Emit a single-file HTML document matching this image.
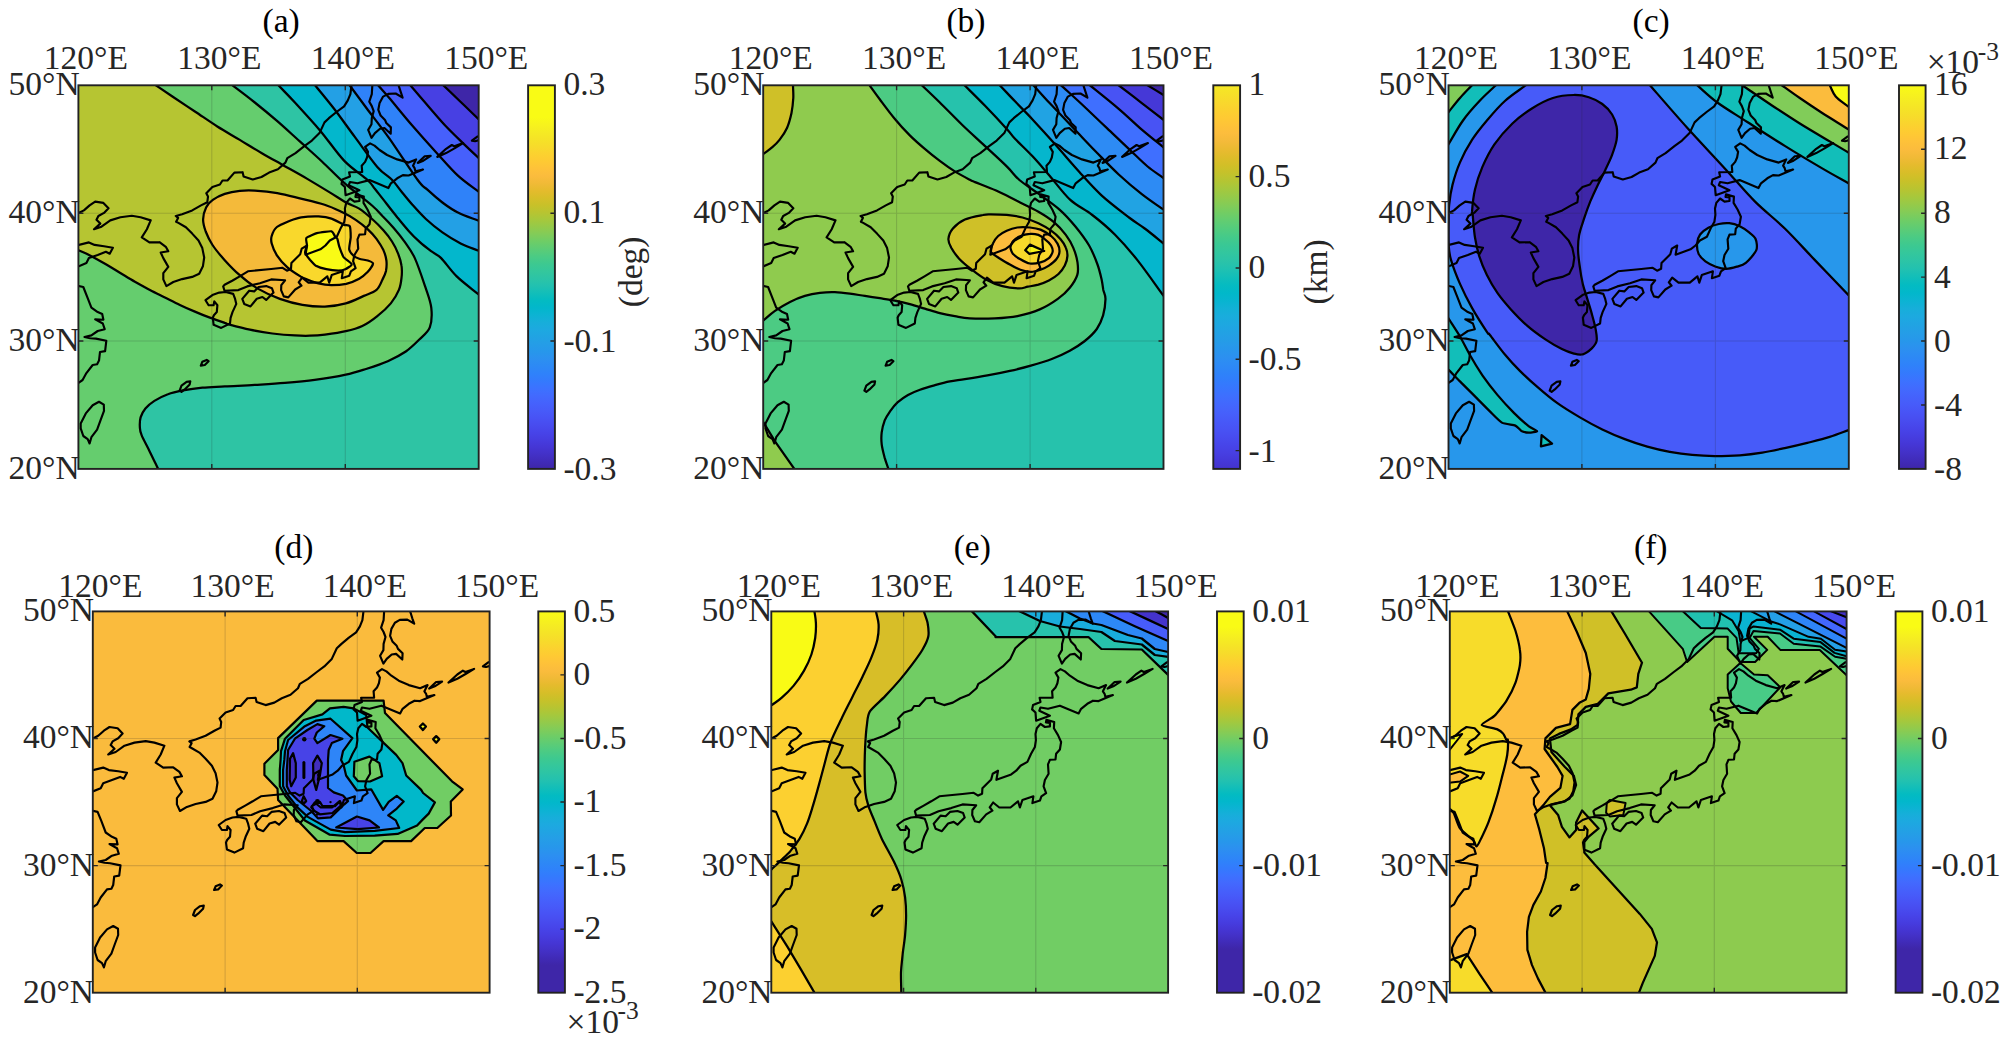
<!DOCTYPE html><html><head><meta charset="utf-8"><title>figure</title>
<style>html,body{margin:0;padding:0;background:#fff}svg{display:block}text{font-family:"Liberation Serif","Times New Roman",serif;}</style></head><body>
<svg width="2007" height="1041" viewBox="0 0 2007 1041">
<rect width="2007" height="1041" fill="#fff"/>
<defs>
<linearGradient id="para" x1="0" y1="1" x2="0" y2="0">
<stop offset="0.0000" stop-color="#3e26a8"/>
<stop offset="0.0191" stop-color="#402bb8"/>
<stop offset="0.0382" stop-color="#4331c7"/>
<stop offset="0.0573" stop-color="#4536d5"/>
<stop offset="0.0764" stop-color="#463de0"/>
<stop offset="0.0955" stop-color="#4744e9"/>
<stop offset="0.1146" stop-color="#484cef"/>
<stop offset="0.1337" stop-color="#4853f5"/>
<stop offset="0.1528" stop-color="#475bf9"/>
<stop offset="0.1719" stop-color="#4562fc"/>
<stop offset="0.1910" stop-color="#426afe"/>
<stop offset="0.2101" stop-color="#3c72ff"/>
<stop offset="0.2292" stop-color="#347afd"/>
<stop offset="0.2483" stop-color="#2f82fa"/>
<stop offset="0.2674" stop-color="#2d89f5"/>
<stop offset="0.2865" stop-color="#2c90f0"/>
<stop offset="0.3056" stop-color="#2797eb"/>
<stop offset="0.3247" stop-color="#259de7"/>
<stop offset="0.3438" stop-color="#21a3e3"/>
<stop offset="0.3629" stop-color="#1da9e0"/>
<stop offset="0.3820" stop-color="#17aeda"/>
<stop offset="0.4011" stop-color="#0cb3d3"/>
<stop offset="0.4202" stop-color="#02b7cb"/>
<stop offset="0.4393" stop-color="#03bbc2"/>
<stop offset="0.4583" stop-color="#12beb9"/>
<stop offset="0.4774" stop-color="#22c1b0"/>
<stop offset="0.4965" stop-color="#2cc4a6"/>
<stop offset="0.5156" stop-color="#34c79c"/>
<stop offset="0.5347" stop-color="#3dc990"/>
<stop offset="0.5538" stop-color="#4bcb84"/>
<stop offset="0.5729" stop-color="#5ccc76"/>
<stop offset="0.5920" stop-color="#6dcd67"/>
<stop offset="0.6111" stop-color="#81cc59"/>
<stop offset="0.6302" stop-color="#94ca4a"/>
<stop offset="0.6493" stop-color="#a6c83c"/>
<stop offset="0.6684" stop-color="#b8c431"/>
<stop offset="0.6875" stop-color="#c8c129"/>
<stop offset="0.7066" stop-color="#d7be28"/>
<stop offset="0.7257" stop-color="#e5bb2d"/>
<stop offset="0.7448" stop-color="#f1ba37"/>
<stop offset="0.7639" stop-color="#fbbc3d"/>
<stop offset="0.7830" stop-color="#fec239"/>
<stop offset="0.8021" stop-color="#feca33"/>
<stop offset="0.8212" stop-color="#fbd22f"/>
<stop offset="0.8403" stop-color="#f7db2b"/>
<stop offset="0.8594" stop-color="#f5e327"/>
<stop offset="0.8785" stop-color="#f5eb23"/>
<stop offset="0.8976" stop-color="#f7f31d"/>
<stop offset="0.9167" stop-color="#f9fb15"/>
</linearGradient>
<linearGradient id="parb" x1="0" y1="1" x2="0" y2="0">
<stop offset="0.0000" stop-color="#4433cc"/>
<stop offset="0.0208" stop-color="#4538d8"/>
<stop offset="0.0417" stop-color="#473fe2"/>
<stop offset="0.0625" stop-color="#4745e9"/>
<stop offset="0.0833" stop-color="#484cef"/>
<stop offset="0.1042" stop-color="#4853f4"/>
<stop offset="0.1250" stop-color="#4759f8"/>
<stop offset="0.1458" stop-color="#4660fb"/>
<stop offset="0.1667" stop-color="#4367fd"/>
<stop offset="0.1875" stop-color="#3f6efe"/>
<stop offset="0.2083" stop-color="#3875fe"/>
<stop offset="0.2292" stop-color="#327cfc"/>
<stop offset="0.2500" stop-color="#2e83f9"/>
<stop offset="0.2708" stop-color="#2d8af5"/>
<stop offset="0.2917" stop-color="#2c90f0"/>
<stop offset="0.3125" stop-color="#2896ec"/>
<stop offset="0.3333" stop-color="#259ce7"/>
<stop offset="0.3542" stop-color="#22a1e4"/>
<stop offset="0.3750" stop-color="#1ea7e1"/>
<stop offset="0.3958" stop-color="#1aacdd"/>
<stop offset="0.4167" stop-color="#13b0d7"/>
<stop offset="0.4375" stop-color="#08b4d0"/>
<stop offset="0.4583" stop-color="#01b8c9"/>
<stop offset="0.4792" stop-color="#05bbc1"/>
<stop offset="0.5000" stop-color="#12beb9"/>
<stop offset="0.5208" stop-color="#20c1b1"/>
<stop offset="0.5417" stop-color="#2bc3a8"/>
<stop offset="0.5625" stop-color="#32c69f"/>
<stop offset="0.5833" stop-color="#39c895"/>
<stop offset="0.6042" stop-color="#44ca8a"/>
<stop offset="0.6250" stop-color="#52cc7e"/>
<stop offset="0.6458" stop-color="#61cd72"/>
<stop offset="0.6667" stop-color="#71cd64"/>
<stop offset="0.6875" stop-color="#83cc57"/>
<stop offset="0.7083" stop-color="#94ca4a"/>
<stop offset="0.7292" stop-color="#a4c83e"/>
<stop offset="0.7500" stop-color="#b4c533"/>
<stop offset="0.7708" stop-color="#c4c22b"/>
<stop offset="0.7917" stop-color="#d2bf27"/>
<stop offset="0.8125" stop-color="#debc2a"/>
<stop offset="0.8333" stop-color="#eaba31"/>
<stop offset="0.8542" stop-color="#f4ba3a"/>
<stop offset="0.8750" stop-color="#fcbd3d"/>
<stop offset="0.8958" stop-color="#fec338"/>
<stop offset="0.9167" stop-color="#feca33"/>
<stop offset="0.9375" stop-color="#fbd12f"/>
<stop offset="0.9583" stop-color="#f8d92c"/>
<stop offset="0.9792" stop-color="#f6e128"/>
<stop offset="1.0000" stop-color="#f5e825"/>
</linearGradient>
<linearGradient id="parc" x1="0" y1="1" x2="0" y2="0">
<stop offset="0.0000" stop-color="#3e26a8"/>
<stop offset="0.0208" stop-color="#402bb8"/>
<stop offset="0.0417" stop-color="#4331c7"/>
<stop offset="0.0625" stop-color="#4536d5"/>
<stop offset="0.0833" stop-color="#463de0"/>
<stop offset="0.1042" stop-color="#4744e9"/>
<stop offset="0.1250" stop-color="#484cef"/>
<stop offset="0.1458" stop-color="#4853f5"/>
<stop offset="0.1667" stop-color="#475bf9"/>
<stop offset="0.1875" stop-color="#4562fc"/>
<stop offset="0.2083" stop-color="#426afe"/>
<stop offset="0.2292" stop-color="#3c72ff"/>
<stop offset="0.2500" stop-color="#347afd"/>
<stop offset="0.2708" stop-color="#2f82fa"/>
<stop offset="0.2917" stop-color="#2d89f5"/>
<stop offset="0.3125" stop-color="#2c90f0"/>
<stop offset="0.3333" stop-color="#2797eb"/>
<stop offset="0.3542" stop-color="#259de7"/>
<stop offset="0.3750" stop-color="#21a3e3"/>
<stop offset="0.3958" stop-color="#1da9e0"/>
<stop offset="0.4167" stop-color="#17aeda"/>
<stop offset="0.4375" stop-color="#0cb3d3"/>
<stop offset="0.4583" stop-color="#02b7cb"/>
<stop offset="0.4792" stop-color="#03bbc2"/>
<stop offset="0.5000" stop-color="#12beb9"/>
<stop offset="0.5208" stop-color="#22c1b0"/>
<stop offset="0.5417" stop-color="#2cc4a6"/>
<stop offset="0.5625" stop-color="#34c79c"/>
<stop offset="0.5833" stop-color="#3dc990"/>
<stop offset="0.6042" stop-color="#4bcb84"/>
<stop offset="0.6250" stop-color="#5ccc76"/>
<stop offset="0.6458" stop-color="#6dcd67"/>
<stop offset="0.6667" stop-color="#81cc59"/>
<stop offset="0.6875" stop-color="#94ca4a"/>
<stop offset="0.7083" stop-color="#a6c83c"/>
<stop offset="0.7292" stop-color="#b8c431"/>
<stop offset="0.7500" stop-color="#c8c129"/>
<stop offset="0.7708" stop-color="#d7be28"/>
<stop offset="0.7917" stop-color="#e5bb2d"/>
<stop offset="0.8125" stop-color="#f1ba37"/>
<stop offset="0.8333" stop-color="#fbbc3d"/>
<stop offset="0.8542" stop-color="#fec239"/>
<stop offset="0.8750" stop-color="#feca33"/>
<stop offset="0.8958" stop-color="#fbd22f"/>
<stop offset="0.9167" stop-color="#f7db2b"/>
<stop offset="0.9375" stop-color="#f5e327"/>
<stop offset="0.9583" stop-color="#f5eb23"/>
<stop offset="0.9792" stop-color="#f7f31d"/>
<stop offset="1.0000" stop-color="#f9fb15"/>
</linearGradient>
<linearGradient id="pard" x1="0" y1="1" x2="0" y2="0">
<stop offset="0.0726" stop-color="#3e26a8"/>
<stop offset="0.0919" stop-color="#402bb8"/>
<stop offset="0.1112" stop-color="#4331c7"/>
<stop offset="0.1306" stop-color="#4536d5"/>
<stop offset="0.1499" stop-color="#463de0"/>
<stop offset="0.1692" stop-color="#4744e9"/>
<stop offset="0.1885" stop-color="#484cef"/>
<stop offset="0.2078" stop-color="#4853f5"/>
<stop offset="0.2272" stop-color="#475bf9"/>
<stop offset="0.2465" stop-color="#4562fc"/>
<stop offset="0.2658" stop-color="#426afe"/>
<stop offset="0.2851" stop-color="#3c72ff"/>
<stop offset="0.3044" stop-color="#347afd"/>
<stop offset="0.3238" stop-color="#2f82fa"/>
<stop offset="0.3431" stop-color="#2d89f5"/>
<stop offset="0.3624" stop-color="#2c90f0"/>
<stop offset="0.3817" stop-color="#2797eb"/>
<stop offset="0.4011" stop-color="#259de7"/>
<stop offset="0.4204" stop-color="#21a3e3"/>
<stop offset="0.4397" stop-color="#1da9e0"/>
<stop offset="0.4590" stop-color="#17aeda"/>
<stop offset="0.4783" stop-color="#0cb3d3"/>
<stop offset="0.4977" stop-color="#02b7cb"/>
<stop offset="0.5170" stop-color="#03bbc2"/>
<stop offset="0.5363" stop-color="#12beb9"/>
<stop offset="0.5556" stop-color="#22c1b0"/>
<stop offset="0.5749" stop-color="#2cc4a6"/>
<stop offset="0.5943" stop-color="#34c79c"/>
<stop offset="0.6136" stop-color="#3dc990"/>
<stop offset="0.6329" stop-color="#4bcb84"/>
<stop offset="0.6522" stop-color="#5ccc76"/>
<stop offset="0.6715" stop-color="#6dcd67"/>
<stop offset="0.6909" stop-color="#81cc59"/>
<stop offset="0.7102" stop-color="#94ca4a"/>
<stop offset="0.7295" stop-color="#a6c83c"/>
<stop offset="0.7488" stop-color="#b8c431"/>
<stop offset="0.7681" stop-color="#c8c129"/>
<stop offset="0.7875" stop-color="#d7be28"/>
<stop offset="0.8068" stop-color="#e5bb2d"/>
<stop offset="0.8261" stop-color="#f1ba37"/>
<stop offset="0.8454" stop-color="#fbbc3d"/>
<stop offset="0.8648" stop-color="#fec239"/>
<stop offset="0.8841" stop-color="#feca33"/>
<stop offset="0.9034" stop-color="#fbd22f"/>
<stop offset="0.9227" stop-color="#f7db2b"/>
<stop offset="0.9420" stop-color="#f5e327"/>
<stop offset="0.9614" stop-color="#f5eb23"/>
<stop offset="0.9807" stop-color="#f7f31d"/>
<stop offset="1.0000" stop-color="#f9fb15"/>
</linearGradient>
<linearGradient id="pare" x1="0" y1="1" x2="0" y2="0">
<stop offset="0.1145" stop-color="#3e26a8"/>
<stop offset="0.1321" stop-color="#402bb8"/>
<stop offset="0.1497" stop-color="#4331c7"/>
<stop offset="0.1673" stop-color="#4536d5"/>
<stop offset="0.1850" stop-color="#463de0"/>
<stop offset="0.2026" stop-color="#4744e9"/>
<stop offset="0.2202" stop-color="#484cef"/>
<stop offset="0.2378" stop-color="#4853f5"/>
<stop offset="0.2554" stop-color="#475bf9"/>
<stop offset="0.2730" stop-color="#4562fc"/>
<stop offset="0.2906" stop-color="#426afe"/>
<stop offset="0.3083" stop-color="#3c72ff"/>
<stop offset="0.3259" stop-color="#347afd"/>
<stop offset="0.3435" stop-color="#2f82fa"/>
<stop offset="0.3611" stop-color="#2d89f5"/>
<stop offset="0.3787" stop-color="#2c90f0"/>
<stop offset="0.3963" stop-color="#2797eb"/>
<stop offset="0.4139" stop-color="#259de7"/>
<stop offset="0.4316" stop-color="#21a3e3"/>
<stop offset="0.4492" stop-color="#1da9e0"/>
<stop offset="0.4668" stop-color="#17aeda"/>
<stop offset="0.4844" stop-color="#0cb3d3"/>
<stop offset="0.5020" stop-color="#02b7cb"/>
<stop offset="0.5196" stop-color="#03bbc2"/>
<stop offset="0.5373" stop-color="#12beb9"/>
<stop offset="0.5549" stop-color="#22c1b0"/>
<stop offset="0.5725" stop-color="#2cc4a6"/>
<stop offset="0.5901" stop-color="#34c79c"/>
<stop offset="0.6077" stop-color="#3dc990"/>
<stop offset="0.6253" stop-color="#4bcb84"/>
<stop offset="0.6429" stop-color="#5ccc76"/>
<stop offset="0.6606" stop-color="#6dcd67"/>
<stop offset="0.6782" stop-color="#81cc59"/>
<stop offset="0.6958" stop-color="#94ca4a"/>
<stop offset="0.7134" stop-color="#a6c83c"/>
<stop offset="0.7310" stop-color="#b8c431"/>
<stop offset="0.7486" stop-color="#c8c129"/>
<stop offset="0.7662" stop-color="#d7be28"/>
<stop offset="0.7839" stop-color="#e5bb2d"/>
<stop offset="0.8015" stop-color="#f1ba37"/>
<stop offset="0.8191" stop-color="#fbbc3d"/>
<stop offset="0.8367" stop-color="#fec239"/>
<stop offset="0.8543" stop-color="#feca33"/>
<stop offset="0.8719" stop-color="#fbd22f"/>
<stop offset="0.8895" stop-color="#f7db2b"/>
<stop offset="0.9072" stop-color="#f5e327"/>
<stop offset="0.9248" stop-color="#f5eb23"/>
<stop offset="0.9424" stop-color="#f7f31d"/>
<stop offset="0.9600" stop-color="#f9fb15"/>
</linearGradient>
<linearGradient id="parf" x1="0" y1="1" x2="0" y2="0">
<stop offset="0.1145" stop-color="#3e26a8"/>
<stop offset="0.1321" stop-color="#402bb8"/>
<stop offset="0.1497" stop-color="#4331c7"/>
<stop offset="0.1673" stop-color="#4536d5"/>
<stop offset="0.1850" stop-color="#463de0"/>
<stop offset="0.2026" stop-color="#4744e9"/>
<stop offset="0.2202" stop-color="#484cef"/>
<stop offset="0.2378" stop-color="#4853f5"/>
<stop offset="0.2554" stop-color="#475bf9"/>
<stop offset="0.2730" stop-color="#4562fc"/>
<stop offset="0.2906" stop-color="#426afe"/>
<stop offset="0.3083" stop-color="#3c72ff"/>
<stop offset="0.3259" stop-color="#347afd"/>
<stop offset="0.3435" stop-color="#2f82fa"/>
<stop offset="0.3611" stop-color="#2d89f5"/>
<stop offset="0.3787" stop-color="#2c90f0"/>
<stop offset="0.3963" stop-color="#2797eb"/>
<stop offset="0.4139" stop-color="#259de7"/>
<stop offset="0.4316" stop-color="#21a3e3"/>
<stop offset="0.4492" stop-color="#1da9e0"/>
<stop offset="0.4668" stop-color="#17aeda"/>
<stop offset="0.4844" stop-color="#0cb3d3"/>
<stop offset="0.5020" stop-color="#02b7cb"/>
<stop offset="0.5196" stop-color="#03bbc2"/>
<stop offset="0.5373" stop-color="#12beb9"/>
<stop offset="0.5549" stop-color="#22c1b0"/>
<stop offset="0.5725" stop-color="#2cc4a6"/>
<stop offset="0.5901" stop-color="#34c79c"/>
<stop offset="0.6077" stop-color="#3dc990"/>
<stop offset="0.6253" stop-color="#4bcb84"/>
<stop offset="0.6429" stop-color="#5ccc76"/>
<stop offset="0.6606" stop-color="#6dcd67"/>
<stop offset="0.6782" stop-color="#81cc59"/>
<stop offset="0.6958" stop-color="#94ca4a"/>
<stop offset="0.7134" stop-color="#a6c83c"/>
<stop offset="0.7310" stop-color="#b8c431"/>
<stop offset="0.7486" stop-color="#c8c129"/>
<stop offset="0.7662" stop-color="#d7be28"/>
<stop offset="0.7839" stop-color="#e5bb2d"/>
<stop offset="0.8015" stop-color="#f1ba37"/>
<stop offset="0.8191" stop-color="#fbbc3d"/>
<stop offset="0.8367" stop-color="#fec239"/>
<stop offset="0.8543" stop-color="#feca33"/>
<stop offset="0.8719" stop-color="#fbd22f"/>
<stop offset="0.8895" stop-color="#f7db2b"/>
<stop offset="0.9072" stop-color="#f5e327"/>
<stop offset="0.9248" stop-color="#f5eb23"/>
<stop offset="0.9424" stop-color="#f7f31d"/>
<stop offset="0.9600" stop-color="#f9fb15"/>
</linearGradient>
<clipPath id="cla"><rect x="0" y="0" width="400.3" height="383.6"/></clipPath>
<clipPath id="clb"><rect x="0" y="0" width="400.3" height="383.6"/></clipPath>
<clipPath id="clc"><rect x="0" y="0" width="400.3" height="383.6"/></clipPath>
<clipPath id="cld"><rect x="0" y="0" width="396.8" height="381.3"/></clipPath>
<clipPath id="cle"><rect x="0" y="0" width="396.8" height="381.3"/></clipPath>
<clipPath id="clf"><rect x="0" y="0" width="396.8" height="381.3"/></clipPath>
</defs>
<g transform="translate(78.4 85.3)">
<g clip-path="url(#cla)">
<rect x="-5" y="-5" width="410.3" height="393.6" fill="#3e26a8"/>
<path d="M351.8 -12.5 C354.0 -10.4 359.9 -4.7 364.8 -0.1 C369.8 4.6 375.4 10.0 381.3 15.7 C387.2 21.3 394.9 28.8 400.2 34.0 C405.5 39.1 411.0 44.4 413.1 46.5 L460.3 34.0 L460.3 443.6 L-60.0 443.6 L-60.0 -60.0 L364.8 -60.0Z" fill="#4740e3" stroke="#000" stroke-width="2.25" stroke-linejoin="round"/>
<path d="M320.2 -13.7 C322.1 -11.4 327.7 -5.0 331.9 -0.1 C336.1 4.8 339.6 9.1 345.4 15.7 C351.1 22.3 359.6 32.4 366.3 39.7 C373.1 46.9 380.2 53.6 385.8 59.1 C391.5 64.6 395.6 68.3 400.2 72.6 C404.8 76.9 411.2 82.9 413.3 84.9 L460.3 72.6 L460.3 443.6 L-60.0 443.6 L-60.0 -60.0 L331.9 -60.0Z" fill="#4660fc" stroke="#000" stroke-width="2.25" stroke-linejoin="round"/>
<path d="M287.8 -13.6 C289.7 -11.3 295.8 -4.4 299.7 -0.1 C303.5 4.3 305.3 6.1 310.9 12.7 C316.5 19.3 325.6 30.7 333.4 39.7 C341.1 48.6 349.6 58.1 357.4 66.6 C365.1 75.1 372.7 84.0 379.8 90.6 C387.0 97.2 394.4 101.9 400.2 106.3 C406.0 110.8 412.1 115.5 414.5 117.3 L460.3 106.3 L460.3 443.6 L-60.0 443.6 L-60.0 -60.0 L299.7 -60.0Z" fill="#2f82f9" stroke="#000" stroke-width="2.25" stroke-linejoin="round"/>
<path d="M260.5 -14.5 C262.3 -12.1 266.5 -6.3 271.2 -0.1 C275.9 6.2 281.8 14.3 288.4 23.2 C295.0 32.0 302.4 41.2 310.9 53.1 C319.4 65.1 332.9 86.2 339.3 94.7 C345.6 103.2 344.9 100.7 349.0 104.4 C353.1 108.2 359.0 113.4 364.0 117.2 C369.0 120.9 372.9 123.9 379.0 126.9 C385.0 130.0 394.0 133.0 400.3 135.5 C406.7 138.1 414.2 141.1 417.0 142.3 L460.3 135.5 L460.3 443.6 L-60.0 443.6 L-60.0 -60.0 L271.2 -60.0Z" fill="#23a0e5" stroke="#000" stroke-width="2.25" stroke-linejoin="round"/>
<path d="M225.4 -14.1 C227.3 -11.7 231.7 -6.3 236.7 -0.1 C241.7 6.2 248.8 14.6 255.5 23.2 C262.1 31.8 269.2 41.9 276.4 51.6 C283.7 61.4 292.7 74.4 298.9 81.6 C305.1 88.8 309.8 90.6 313.8 94.7 C317.8 98.8 319.4 101.8 322.8 105.9 C326.2 110.1 329.9 114.8 334.0 119.4 C338.1 124.0 342.5 129.0 347.5 133.7 C352.5 138.3 358.1 143.0 364.0 147.1 C369.9 151.3 376.7 155.3 382.7 158.4 C388.8 161.4 394.6 163.2 400.3 165.5 C406.0 167.8 414.2 171.1 417.0 172.3 L460.3 165.5 L460.3 443.6 L-60.0 443.6 L-60.0 -60.0 L236.7 -60.0Z" fill="#03b7cc" stroke="#000" stroke-width="2.25" stroke-linejoin="round"/>
<path d="M187.6 -13.1 C189.6 -10.9 195.2 -5.1 200.0 -0.1 C204.8 5.0 209.5 9.6 216.5 17.2 C223.5 24.8 233.7 35.9 242.0 45.6 C250.2 55.4 258.1 67.4 265.9 75.6 C273.8 83.8 284.0 90.0 289.1 94.7 C294.2 99.4 293.4 99.8 296.6 103.7 C299.7 107.6 304.0 113.2 307.8 117.9 C311.5 122.7 315.3 127.5 319.0 132.2 C322.8 136.8 326.5 141.5 330.3 145.6 C334.0 149.8 337.8 153.5 341.5 156.9 C345.3 160.3 349.3 163.3 352.7 165.9 C356.2 168.5 358.2 168.4 362.5 172.6 C366.8 176.8 372.0 185.0 378.3 191.1 C384.6 197.2 394.2 204.2 400.2 209.1 C406.2 214.0 411.8 218.6 414.1 220.5 L460.3 209.1 L460.3 443.6 L-60.0 443.6 L-60.0 -60.0 L200.0 -60.0Z" fill="#2ec4a4" stroke="#000" stroke-width="2.25" stroke-linejoin="round"/>
<path d="M139.6 -11.0 C142.0 -9.2 147.8 -4.8 153.9 -0.1 C160.1 4.6 168.9 11.2 176.4 17.2 C183.9 23.2 191.4 29.4 198.9 35.9 C206.4 42.4 213.9 49.4 221.4 56.1 C228.9 62.9 236.3 69.4 243.8 76.4 C251.3 83.4 258.0 90.8 266.3 98.1 C274.6 105.4 287.3 114.7 293.6 120.2 C299.8 125.6 300.4 126.9 304.0 130.7 C307.7 134.4 311.5 138.3 315.3 142.7 C319.0 147.0 323.0 151.9 326.5 156.9 C330.0 161.9 332.9 165.2 336.3 172.6 C339.7 180.1 344.1 193.3 346.9 201.6 C349.6 209.9 352.1 215.8 352.9 222.6 C353.6 229.3 353.4 236.8 351.4 242.1 C349.4 247.3 344.9 250.2 340.9 254.2 C336.9 258.2 332.6 262.5 327.4 266.2 C322.1 269.8 315.9 273.0 309.4 275.9 C302.9 278.8 295.4 281.2 288.4 283.4 C281.4 285.6 276.1 287.5 267.4 289.4 C258.8 291.3 246.5 293.3 236.3 294.6 C226.2 296.0 216.4 296.8 206.4 297.6 C196.4 298.5 186.4 299.0 176.4 299.6 C166.4 300.2 155.2 300.6 146.4 301.1 C137.7 301.6 131.0 301.8 124.0 302.4 C117.0 303.1 110.2 304.1 104.5 305.1 C98.7 306.2 94.2 307.1 89.5 308.9 C84.7 310.6 79.8 313.2 76.0 315.6 C72.3 318.0 69.3 320.4 67.0 323.1 C64.7 325.9 63.1 328.9 62.2 332.1 C61.3 335.3 61.3 339.6 61.5 342.6 C61.6 345.6 61.6 346.1 63.3 350.1 C64.9 354.1 68.8 360.9 71.5 366.6 C74.3 372.2 77.1 378.2 79.8 383.8 C82.4 389.4 86.2 397.3 87.5 400.0 L79.8 443.6 L-60.0 443.6 L-60.0 -60.0 L153.9 -60.0Z" fill="#65cd6e" stroke="#000" stroke-width="2.25" stroke-linejoin="round"/>
<path d="M62.6 -10.2 C65.1 -8.5 72.3 -3.6 77.5 -0.1 C82.7 3.5 87.5 6.8 94.0 11.2 C100.5 15.6 109.0 21.2 116.5 26.2 C124.0 31.2 131.5 36.4 138.9 41.2 C146.4 45.9 153.9 50.1 161.4 54.6 C168.9 59.1 176.4 63.8 183.9 68.1 C191.4 72.5 198.9 76.6 206.4 80.9 C213.9 85.1 221.4 89.2 228.9 93.6 C236.3 98.0 244.8 103.1 251.3 107.1 C257.8 111.0 262.9 114.6 267.8 117.3 C272.7 120.0 276.4 120.6 280.8 123.3 C285.1 126.1 289.7 130.1 293.7 133.7 C297.8 137.3 301.7 141.2 305.0 145.0 C308.3 148.7 311.2 152.3 313.6 156.2 C316.1 160.1 318.1 164.3 319.7 168.3 C321.3 172.3 322.6 176.4 323.1 180.4 C323.7 184.4 323.6 188.5 323.1 192.5 C322.7 196.5 322.3 200.3 320.5 204.6 C318.7 208.9 316.0 213.7 312.4 218.1 C308.8 222.5 303.7 227.1 298.9 230.8 C294.2 234.6 289.2 238.2 283.9 240.7 C278.7 243.2 273.7 244.5 267.4 245.9 C261.2 247.4 252.5 248.6 246.5 249.4 C240.5 250.1 236.5 250.3 231.5 250.4 C226.5 250.6 222.7 250.5 216.5 250.1 C210.3 249.8 201.5 249.1 194.0 248.2 C186.5 247.2 178.8 245.9 171.5 244.4 C164.3 242.9 154.7 240.3 150.6 239.2 C146.4 238.1 149.6 238.7 146.4 237.6 C143.3 236.4 136.4 234.2 131.5 232.3 C126.5 230.5 121.5 228.5 116.5 226.3 C111.5 224.2 106.5 222.0 101.5 219.6 C96.5 217.2 91.5 214.6 86.5 212.1 C81.5 209.6 76.5 207.2 71.5 204.6 C66.5 202.0 61.5 199.2 56.5 196.4 C51.5 193.5 46.5 190.4 41.5 187.4 C36.5 184.4 31.6 181.3 26.6 178.4 C21.6 175.5 16.0 172.4 11.6 170.1 C7.1 167.9 4.7 167.0 0.0 164.9 C-4.6 162.8 -13.6 158.7 -16.4 157.5 L-60.0 164.9 L-60.0 -60.0 L77.5 -60.0Z" fill="#b6c532" stroke="#000" stroke-width="2.25" stroke-linejoin="round"/>
<path d="M124.7 134.1 C124.8 130.0 126.1 125.3 127.7 122.1 C129.3 118.8 131.3 116.8 134.4 114.6 C137.6 112.3 141.9 110.1 146.4 108.6 C150.9 107.1 156.4 106.1 161.4 105.6 C166.4 105.0 170.2 104.9 176.4 105.3 C182.6 105.7 191.4 106.5 198.9 107.8 C206.4 109.1 213.5 111.1 221.4 113.1 C229.2 115.0 239.2 117.2 246.2 119.5 C253.2 121.7 258.3 124.3 263.5 126.8 C268.7 129.3 273.0 131.7 277.3 134.6 C281.6 137.5 286.0 140.9 289.4 144.1 C292.9 147.3 295.5 150.1 298.1 153.6 C300.6 157.1 303.3 161.2 305.0 164.8 C306.6 168.4 307.6 171.8 308.0 175.2 C308.4 178.7 308.2 182.4 307.6 185.6 C306.9 188.8 305.7 191.1 304.1 194.2 C302.5 197.4 301.2 201.9 298.1 204.6 C294.9 207.3 290.5 208.4 285.4 210.6 C280.3 212.9 273.9 216.3 267.4 218.1 C261.0 219.9 253.7 221.1 246.5 221.4 C239.2 221.6 231.5 220.9 224.0 219.6 C216.5 218.3 209.0 216.3 201.5 213.6 C194.0 210.9 185.8 207.1 179.0 203.1 C172.3 199.1 166.5 194.4 161.1 189.6 C155.6 184.9 150.6 179.6 146.1 174.6 C141.6 169.6 137.2 164.4 134.1 159.7 C131.0 154.9 128.9 150.4 127.3 146.2 C125.8 141.9 124.6 138.1 124.7 134.1Z" fill="#f4ba3a" stroke="#000" stroke-width="2.25" stroke-linejoin="round"/>
<path d="M211.6 135.4 C214.4 134.3 219.5 132.5 222.8 132.0 C226.2 131.5 236.6 131.0 240.1 131.1 C243.7 131.3 250.2 132.3 253.1 133.3 C256.0 134.2 263.1 138.5 265.2 139.3 C267.3 140.2 270.4 139.3 271.3 140.8 C272.1 142.3 272.3 149.2 272.3 151.9 C272.2 154.6 270.5 161.9 270.8 164.0 C271.1 166.1 273.6 168.9 274.7 170.0 C275.9 171.1 279.0 172.9 280.8 173.5 C282.5 174.1 287.8 174.7 289.4 175.2 C291.0 175.8 294.6 176.9 294.6 178.2 C294.6 179.6 291.0 184.7 289.4 186.5 C287.8 188.2 283.3 192.0 280.8 193.4 C278.2 194.8 271.0 197.8 267.8 198.6 C264.6 199.3 256.3 199.9 253.1 199.9 C249.9 199.8 243.0 198.8 240.1 198.1 C237.3 197.5 230.9 195.0 228.9 194.2 C226.9 193.5 225.2 193.1 222.8 191.6 C220.5 190.2 211.8 184.6 209.0 182.1 C206.2 179.6 200.3 172.9 198.5 170.1 C196.7 167.3 193.9 160.4 193.3 158.2 C192.7 155.9 192.7 152.6 193.3 150.7 C193.9 148.7 196.4 143.4 198.5 141.7 C200.7 139.9 208.8 136.6 211.6 135.4Z" fill="#f9d82c" stroke="#000" stroke-width="2.25" stroke-linejoin="round"/>
<path d="M228.0 152.7 C228.9 151.7 237.2 148.1 239.3 147.6 C241.4 147.0 251.7 145.7 253.1 146.0 C254.5 146.3 256.1 150.4 256.6 151.0 C257.0 151.6 258.6 152.7 259.0 153.6 C259.3 154.5 260.4 159.9 260.9 161.4 C261.4 162.9 264.2 170.3 265.2 171.8 C266.2 173.2 273.3 178.1 273.4 179.1 C273.6 180.1 268.0 183.4 266.9 183.9 C265.8 184.4 261.6 185.2 260.0 185.2 C258.4 185.2 249.8 184.3 247.9 183.9 C246.0 183.5 238.9 181.2 237.5 180.4 C236.2 179.6 232.4 175.4 231.5 174.4 C230.6 173.3 227.0 168.7 226.7 167.4 C226.5 166.2 228.4 160.9 228.5 159.7 C228.6 158.4 227.1 153.7 228.0 152.7Z" fill="#f9fb15" stroke="#000" stroke-width="2.25" stroke-linejoin="round"/>
<path d="M133.4 0V383.6 M0 127.9H400.3" stroke="#262626" stroke-opacity="0.18" stroke-width="1.1" fill="none"/>
<path d="M266.9 0V383.6 M0 255.7H400.3" stroke="#262626" stroke-opacity="0.18" stroke-width="1.1" fill="none"/>
<path d="M-0.8 128.2 L5.5 125.1 L11.2 120.1 L16.8 116.3 L25.0 117.6 L30.1 123.0 L25.6 127.6 L20.0 130.7 L18.1 134.5 L21.9 138.3 L15.6 143.9 L23.1 141.4 L31.9 135.1 L42.0 132.0 L53.4 130.5 L62.2 132.0 L72.3 135.1 L68.5 143.9 L63.4 152.1 L71.0 157.1 L81.1 156.9 L87.4 161.5 L89.9 165.9 L82.3 167.2 L84.9 172.8 L89.9 181.6 L84.9 187.9 L84.9 194.1 L88.0 200.8 L94.9 196.7 L103.7 193.8 L113.8 191.6 L120.8 188.5 L124.5 181.0 L125.8 172.2 L123.9 162.8 L120.1 155.2 L113.8 148.3 L107.5 142.0 L100.0 137.6 L97.7 136.4 L99.7 132.6 L97.4 130.7 L103.7 128.9 L113.8 125.1 L122.6 120.1 L128.9 116.9 L129.6 111.3 L127.9 107.9 L134.0 101.7 L141.5 99.2 L144.1 95.2 L149.1 95.2 L156.0 87.3 L164.2 86.9 L165.2 91.1 L174.3 94.2 L183.1 91.7 L190.7 87.3 L199.5 83.9 L207.0 77.3 L208.9 72.9 L217.1 67.8 L225.9 60.9 L233.5 55.3 L241.1 47.8 L246.1 37.1 L250.5 32.9 L258.1 26.7 L265.7 21.1 L269.4 15.1 L272.0 8.8 L273.2 -1.2 M-2.1 160.2 L10.5 157.1 L16.2 159.6 L25.6 160.9 L34.5 162.4 L31.3 168.4 L27.5 166.5 L19.3 169.7 L10.5 172.8 L8.0 177.8 L-2.1 182.0 M-2.1 200.1 L4.9 201.7 L8.6 211.1 L13.0 222.4 L19.3 226.8 L23.8 228.8 L25.0 234.4 L16.8 234.1 L24.4 238.2 L26.3 243.9 L19.3 245.7 L13.0 250.1 L6.1 251.7 L11.8 252.9 L17.5 253.3 L27.9 255.5 L26.7 265.8 L21.6 266.7 L20.6 275.3 L18.7 279.0 L14.3 279.7 L8.0 287.8 L4.2 294.7 L-2.1 299.1 M2.3 338.1 L7.4 328.1 L14.3 319.9 L20.6 316.5 L25.4 319.3 L25.6 325.5 L21.9 335.6 L18.7 344.4 L13.0 351.9 L11.2 358.2 L9.3 353.8 L4.9 350.7 L2.3 343.1Z M101.2 305.4 L103.1 300.4 L108.2 296.6 L111.9 296.0 L111.3 299.1 L106.3 304.1 L103.1 306.6Z M122.4 280.3 L123.9 276.5 L128.3 274.6 L130.2 275.9 L126.4 279.7Z M127.1 214.9 L134.0 209.8 L140.9 207.3 L147.2 206.7 L154.8 208.6 L156.7 213.6 L157.9 218.6 L154.1 226.8 L152.2 232.6 L151.6 238.2 L142.8 242.6 L135.2 239.5 L134.4 232.4 L135.5 229.9 L138.4 226.8 L139.0 219.9 L135.9 216.1 L135.2 219.9 L130.2 219.9Z M271.6 113.2 L267.8 117.6 L266.5 123.2 L266.9 129.5 L265.9 136.4 L262.1 143.3 L258.4 151.5 L251.4 155.2 L247.0 160.2 L242.0 164.0 L227.1 169.4 L228.7 160.2 L223.3 163.4 L221.8 169.0 L213.0 177.8 L212.6 183.5 L208.6 185.4 L204.2 182.5 L192.8 183.7 L169.5 186.0 L161.3 191.0 L153.8 195.4 L146.2 199.5 L144.8 201.1 L146.1 205.4 L160.0 204.8 L168.8 201.1 L181.5 197.9 L192.8 194.1 L206.7 195.0 L202.9 199.8 L202.7 204.8 L205.4 211.1 L209.9 212.1 L216.8 204.2 L223.1 200.4 L220.3 197.0 L223.7 192.3 L230.0 197.3 L241.3 197.3 L248.9 191.0 L250.8 197.3 L253.3 189.8 L264.4 186.0 L263.4 192.9 L270.9 190.4 L272.5 186.0 L277.2 182.8 L274.7 175.9 L276.0 169.7 L279.8 163.4 L279.1 154.0 L281.0 149.3 L286.7 148.9 L287.3 143.3 L291.1 138.9 L292.4 131.4 L289.2 124.5 L285.1 117.6 L285.4 111.3 L277.5 109.1 L277.0 111.7 L281.0 112.2 L281.0 115.7 L276.0 116.3Z M163.9 213.6 L170.8 205.4 L175.8 206.1 L180.2 201.7 L187.8 200.8 L193.5 202.9 L195.1 207.3 L187.8 214.6 L184.0 211.7 L178.4 213.4 L172.1 221.1 L165.8 218.6Z M291.7 58.1 L286.7 61.6 L289.6 66.6 L288.6 72.2 L286.7 76.6 L283.3 80.4 L283.8 86.7 L270.7 86.9 L271.6 91.1 L264.0 94.2 L263.1 98.6 L266.5 101.7 L267.2 109.9 L281.0 104.9 L270.3 99.9 L271.6 96.7 L279.1 98.0 L291.1 94.8 L310.0 102.8 L312.5 98.0 L318.8 93.0 L324.5 89.8 L330.2 90.2 L344.6 84.2 L337.1 86.1 L336.2 82.9 L334.6 80.4 L337.7 74.1 L330.2 77.3 L318.8 74.1 L308.7 69.7 L301.2 64.7 L296.1 60.3Z M294.0 -1.2 L293.4 8.8 L290.9 16.4 L293.4 20.8 L295.3 25.8 L293.4 32.7 L293.1 39.0 L289.8 44.6 L293.1 52.5 L296.5 47.8 L301.6 43.4 L306.0 42.7 L312.3 48.4 L312.5 42.1 L307.9 37.7 L306.6 34.6 L302.2 30.2 L299.9 24.5 L301.2 17.6 L304.7 11.3 L309.8 8.6 L317.3 8.2 L324.2 12.3 L322.4 6.9 L319.8 -1.2 M339.4 77.6 L346.3 71.0 L352.3 70.6 L345.0 75.4Z M358.9 71.6 L367.7 63.5 L373.4 59.7 L375.9 60.9 L384.7 57.8 L376.5 62.8 L367.7 67.8Z M393.5 55.3 L398.6 51.5 L403.6 49.6 L403.6 54.0 L396.7 55.9Z" fill="none" stroke="#000" stroke-width="2.15" stroke-linejoin="round" stroke-linecap="round"/>
</g>
<path d="M133.4 0v5 M133.4 383.6v-5 M0 127.9h5 M400.3 127.9h-5 M266.9 0v5 M266.9 383.6v-5 M0 255.7h5 M400.3 255.7h-5" stroke="#262626" stroke-width="1.4" fill="none"/>
<rect x="0" y="0" width="400.3" height="383.6" fill="none" stroke="#222" stroke-width="1.9"/>
</g>
<rect x="528.1" y="85.3" width="26.8" height="383.6" fill="url(#para)" stroke="#222" stroke-width="1.9"/>
<text x="85.9" y="69.0" font-size="33.5" fill="#262626" text-anchor="middle" >120°E</text>
<text x="219.3" y="69.0" font-size="33.5" fill="#262626" text-anchor="middle" >130°E</text>
<text x="352.8" y="69.0" font-size="33.5" fill="#262626" text-anchor="middle" >140°E</text>
<text x="486.2" y="69.0" font-size="33.5" fill="#262626" text-anchor="middle" >150°E</text>
<text x="79.6" y="94.7" font-size="33.5" fill="#262626" text-anchor="end" >50°N</text>
<text x="79.6" y="222.9" font-size="33.5" fill="#262626" text-anchor="end" >40°N</text>
<text x="79.6" y="351.1" font-size="33.5" fill="#262626" text-anchor="end" >30°N</text>
<text x="79.6" y="479.3" font-size="33.5" fill="#262626" text-anchor="end" >20°N</text>
<text x="281.2" y="32.3" font-size="33.5" fill="#000" text-anchor="middle" >(a)</text>
<text x="563.4" y="95.2" font-size="33.5" fill="#262626" text-anchor="start" >0.3</text>
<text x="563.4" y="223.4" font-size="33.5" fill="#262626" text-anchor="start" >0.1</text>
<text x="563.4" y="351.7" font-size="33.5" fill="#262626" text-anchor="start" >-0.1</text>
<text x="563.4" y="479.9" font-size="33.5" fill="#262626" text-anchor="start" >-0.3</text>
<path d="M554.9 213.2h-4.5 M554.9 341.0h-4.5" stroke="#262626" stroke-width="1.4" fill="none"/>
<text transform="translate(641.7 271.9) rotate(-90)" font-size="33.5" fill="#262626" text-anchor="middle">(deg)</text>
<g transform="translate(763.2 85.3)">
<g clip-path="url(#clb)">
<rect x="-5" y="-5" width="410.3" height="393.6" fill="#3e26a8"/>
<path d="M369.0 -9.4 C371.6 -7.8 379.2 -3.2 384.4 0.0 C389.6 3.2 395.1 6.5 400.3 9.7 C405.5 12.9 413.1 17.5 415.6 19.0 L460.3 9.7 L460.3 443.6 L-60.0 443.6 L-60.0 -60.0 L384.4 -60.0Z" fill="#4538d7" stroke="#000" stroke-width="2.25" stroke-linejoin="round"/>
<path d="M341.3 -11.0 C343.7 -9.1 349.3 -4.8 355.5 0.0 C361.8 4.8 371.1 12.0 378.6 17.8 C386.1 23.5 394.3 29.9 400.3 34.5 C406.3 39.1 412.2 43.6 414.5 45.5 L460.3 34.5 L460.3 443.6 L-60.0 443.6 L-60.0 -60.0 L355.5 -60.0Z" fill="#4853f4" stroke="#000" stroke-width="2.25" stroke-linejoin="round"/>
<path d="M312.8 -11.4 C315.1 -9.5 319.6 -5.8 326.7 0.0 C333.9 5.8 346.9 16.1 355.5 23.5 C364.2 30.9 371.1 37.8 378.6 44.3 C386.1 50.7 394.3 57.2 400.3 62.1 C406.2 67.0 411.8 71.7 414.2 73.6 L460.3 62.1 L460.3 443.6 L-60.0 443.6 L-60.0 -60.0 L326.7 -60.0Z" fill="#3f6fff" stroke="#000" stroke-width="2.25" stroke-linejoin="round"/>
<path d="M284.7 -12.2 C286.9 -10.2 291.9 -5.6 297.9 0.0 C304.0 5.6 313.3 14.0 321.0 21.2 C328.6 28.4 336.3 35.8 344.0 43.1 C351.7 50.4 360.3 58.7 367.1 65.0 C373.8 71.4 378.8 76.5 384.4 81.2 C389.9 85.8 395.2 89.0 400.3 92.7 C405.4 96.4 412.4 101.5 414.8 103.2 L460.3 92.7 L460.3 443.6 L-60.0 443.6 L-60.0 -60.0 L297.9 -60.0Z" fill="#2d8bf4" stroke="#000" stroke-width="2.25" stroke-linejoin="round"/>
<path d="M258.1 -13.3 C260.2 -11.1 265.5 -5.2 270.2 0.0 C275.0 5.2 279.8 10.8 286.4 17.8 C292.9 24.7 301.8 33.9 309.4 42.0 C317.1 50.0 324.8 58.3 332.5 66.2 C340.2 74.0 347.9 82.1 355.5 89.2 C363.2 96.3 371.1 103.0 378.6 108.8 C386.1 114.7 394.3 120.1 400.4 124.4 C406.5 128.8 412.6 133.2 415.0 134.9 L460.3 124.4 L460.3 443.6 L-60.0 443.6 L-60.0 -60.0 L270.2 -60.0Z" fill="#21a3e3" stroke="#000" stroke-width="2.25" stroke-linejoin="round"/>
<path d="M224.2 -13.1 C226.2 -10.9 231.9 -4.9 236.5 -0.1 C241.2 4.8 246.4 10.4 251.8 16.0 C257.2 21.7 262.4 26.7 269.1 33.9 C275.8 41.1 284.3 50.4 292.1 59.3 C300.0 68.1 308.7 78.5 316.4 86.9 C324.0 95.4 329.9 102.3 338.3 110.0 C346.6 117.6 359.3 127.1 366.5 132.7 C373.8 138.2 375.9 138.9 381.5 143.2 C387.2 147.4 394.9 153.8 400.4 158.2 C405.9 162.5 412.2 167.5 414.5 169.3 L460.3 158.2 L460.3 443.6 L-60.0 443.6 L-60.0 -60.0 L236.5 -60.0Z" fill="#05b6cd" stroke="#000" stroke-width="2.25" stroke-linejoin="round"/>
<path d="M188.6 -12.8 C190.7 -10.7 195.8 -5.5 201.3 -0.1 C206.8 5.4 214.4 12.8 221.6 20.2 C228.7 27.5 239.0 38.6 244.0 44.2 C249.1 49.7 247.6 49.1 251.8 53.5 C256.0 57.9 263.3 64.6 269.1 70.8 C274.9 76.9 280.0 83.1 286.4 90.4 C292.7 97.7 300.0 108.0 307.1 114.6 C314.2 121.1 321.7 123.9 329.1 129.7 C336.5 135.4 344.1 141.7 351.6 149.2 C359.1 156.7 365.9 164.4 374.0 174.6 C382.2 184.9 394.2 202.2 400.4 210.6 C406.6 219.0 409.3 222.7 411.1 225.1 L460.3 210.6 L460.3 443.6 L-60.0 443.6 L-60.0 -60.0 L201.3 -60.0Z" fill="#26c2ac" stroke="#000" stroke-width="2.25" stroke-linejoin="round"/>
<path d="M145.6 -12.5 C147.8 -10.4 153.5 -5.0 158.6 -0.1 C163.8 4.9 169.9 10.6 176.6 17.2 C183.3 23.8 191.6 32.4 199.1 39.7 C206.6 46.9 214.1 53.6 221.6 60.6 C229.1 67.6 238.3 75.9 244.0 81.6 C249.8 87.3 251.0 90.2 256.2 94.7 C261.4 99.2 268.5 103.5 275.2 108.4 C281.9 113.4 290.1 118.8 296.3 124.3 C302.5 129.7 307.2 135.2 312.2 141.2 C317.1 147.2 322.2 153.9 325.9 160.2 C329.6 166.5 332.2 173.4 334.3 179.2 C336.4 185.0 337.6 190.8 338.6 195.1 C339.5 199.3 339.5 201.5 340.1 204.6 C340.8 207.7 342.3 209.3 342.3 213.6 C342.2 217.9 341.3 225.1 339.9 230.1 C338.4 235.1 336.6 239.4 333.6 243.7 C330.5 248.0 326.1 252.1 321.6 255.7 C317.1 259.3 312.1 262.4 306.6 265.4 C301.1 268.4 295.1 271.2 288.6 273.7 C282.1 276.2 274.6 278.4 267.6 280.4 C260.7 282.4 253.9 284.0 246.7 285.6 C239.4 287.3 231.7 288.8 224.2 290.1 C216.7 291.5 208.0 292.9 201.7 293.9 C195.5 294.9 191.7 295.1 186.7 296.1 C181.7 297.1 176.7 298.5 171.7 299.9 C166.7 301.3 161.3 302.8 156.8 304.4 C152.3 306.0 148.5 307.5 144.8 309.6 C141.0 311.7 137.3 314.4 134.3 317.1 C131.3 319.9 128.9 323.1 126.8 326.1 C124.7 329.1 122.9 331.6 121.5 335.1 C120.2 338.6 119.0 343.1 118.5 347.1 C118.0 351.1 118.0 354.8 118.5 359.1 C119.0 363.3 120.4 368.4 121.5 372.6 C122.7 376.7 123.7 379.1 125.3 383.8 C126.9 388.5 130.0 398.0 131.0 400.9 L125.3 443.6 L-60.0 443.6 L-60.0 -60.0 L158.6 -60.0Z" fill="#4ccb83" stroke="#000" stroke-width="2.25" stroke-linejoin="round"/>
<path d="M95.5 -14.5 C97.3 -12.1 102.6 -4.8 106.2 -0.1 C109.7 4.7 112.4 8.6 116.7 14.2 C120.9 19.8 126.7 27.7 131.7 33.7 C136.6 39.7 141.6 45.1 146.6 50.1 C151.6 55.1 156.6 59.4 161.6 63.6 C166.6 67.9 171.6 71.9 176.6 75.6 C181.6 79.4 186.6 83.0 191.6 86.1 C196.6 89.2 203.2 92.6 206.6 94.4 C209.9 96.1 207.4 95.0 211.8 96.8 C216.2 98.6 225.9 102.1 232.9 105.3 C240.0 108.4 247.0 112.3 254.1 115.8 C261.1 119.3 269.0 122.9 275.2 126.4 C281.3 129.9 286.4 133.1 291.0 137.0 C295.6 140.8 299.5 145.4 302.6 149.6 C305.8 153.9 308.1 157.7 310.0 162.3 C312.0 166.9 313.6 172.5 314.3 177.1 C314.9 181.6 315.4 185.4 314.1 189.6 C312.8 193.8 309.9 198.4 306.6 202.4 C303.4 206.4 299.6 210.0 294.6 213.6 C289.6 217.2 283.4 221.2 276.6 224.1 C269.9 227.0 261.7 229.3 254.2 230.8 C246.7 232.3 239.6 232.7 231.7 233.1 C223.7 233.5 213.3 233.5 206.6 233.1 C199.9 232.7 196.6 231.7 191.6 230.8 C186.6 230.0 181.6 229.1 176.6 227.8 C171.6 226.6 166.6 224.8 161.6 223.3 C156.6 221.8 151.6 220.2 146.6 218.8 C141.6 217.5 136.6 216.4 131.7 215.4 C126.7 214.4 121.7 213.7 116.7 212.9 C111.7 212.1 106.7 211.4 101.7 210.6 C96.7 209.9 91.7 209.0 86.7 208.4 C81.7 207.7 76.7 207.0 71.7 206.9 C66.7 206.7 61.7 207.0 56.7 207.6 C51.7 208.2 46.7 209.1 41.7 210.6 C36.7 212.1 31.8 214.1 26.8 216.6 C21.8 219.1 16.2 222.5 11.8 225.6 C7.3 228.7 4.2 231.8 -0.1 235.3 C-4.4 238.9 -11.7 244.9 -14.0 246.8 L-60.0 235.3 L-60.0 -60.0 L106.2 -60.0Z" fill="#8fcb4e" stroke="#000" stroke-width="2.25" stroke-linejoin="round"/>
<path d="M-9.4 321.2 L-0.1 336.6 L11.8 356.1 L31.3 383.8 L41.6 398.5 L-60.0 443.6Z" fill="#8fcb4e" stroke="#000" stroke-width="2.25" stroke-linejoin="round"/>
<path d="M29.3 -18.1 C29.4 -15.1 29.6 -5.2 29.8 -0.1 C29.9 5.1 30.3 8.1 30.1 12.7 C29.8 17.3 29.3 22.7 28.3 27.7 C27.2 32.7 25.8 38.2 23.8 42.7 C21.8 47.1 18.8 51.4 16.3 54.6 C13.8 57.9 11.5 59.8 8.8 62.1 C6.1 64.5 3.8 65.9 -0.1 68.9 C-3.9 71.8 -12.0 78.0 -14.4 79.8 L-60.0 -60.0Z" fill="#cfc028" stroke="#000" stroke-width="2.25" stroke-linejoin="round"/>
<path d="M185.2 153.7 C185.5 150.4 187.0 146.4 189.7 143.2 C192.5 139.9 196.7 136.4 201.7 134.2 C206.7 131.9 215.4 130.5 219.7 129.7 C224.0 128.8 223.7 129.1 227.6 129.0 C231.6 129.0 238.2 129.0 243.5 129.6 C248.8 130.1 254.1 130.8 259.3 132.2 C264.6 133.6 270.4 135.8 275.2 138.0 C279.9 140.2 284.2 142.8 287.9 145.4 C291.6 148.0 294.9 151.0 297.4 153.9 C299.8 156.7 301.5 159.5 302.6 162.3 C303.8 165.1 304.4 167.8 304.2 170.8 C304.1 173.7 303.1 177.3 301.6 180.3 C300.1 183.3 297.9 186.2 295.3 188.7 C292.6 191.2 289.1 193.3 285.7 195.1 C282.4 196.8 278.7 198.2 275.2 199.3 C271.7 200.3 267.9 200.8 264.6 201.4 C261.4 202.0 259.9 203.2 255.7 203.1 C251.4 203.0 244.7 202.4 239.2 200.9 C233.7 199.4 227.9 197.0 222.7 194.1 C217.4 191.2 212.2 187.1 207.7 183.6 C203.2 180.1 199.0 176.6 195.7 173.1 C192.5 169.6 190.0 165.9 188.2 162.7 C186.5 159.4 185.0 156.9 185.2 153.7Z" fill="#cfc028" stroke="#000" stroke-width="2.25" stroke-linejoin="round"/>
<path d="M227.6 166.5 C226.9 164.8 228.9 159.9 229.8 158.1 C230.6 156.2 233.4 152.2 235.0 150.7 C236.6 149.2 241.3 146.4 243.5 145.4 C245.7 144.4 251.3 142.6 254.1 142.2 C256.8 141.9 264.0 142.0 266.7 142.2 C269.4 142.5 274.8 143.4 277.3 144.3 C279.8 145.3 285.9 149.1 287.9 150.7 C289.8 152.3 293.2 156.2 294.2 158.1 C295.2 159.9 296.4 164.7 296.3 166.5 C296.2 168.4 294.4 172.3 293.1 173.9 C291.9 175.5 287.6 179.0 285.7 180.3 C283.9 181.5 279.4 183.7 277.3 184.5 C275.2 185.2 270.1 186.6 267.8 186.6 C265.4 186.6 259.7 185.4 257.2 184.5 C254.8 183.6 249.1 180.6 246.7 179.2 C244.2 177.9 238.3 174.3 236.1 172.9 C233.9 171.4 228.4 168.3 227.6 166.5Z" fill="#fcbc3d" stroke="#000" stroke-width="2.25" stroke-linejoin="round"/>
<path d="M247.2 162.3 C247.2 161.0 248.9 157.1 249.8 156.0 C250.7 154.9 254.5 152.0 256.2 151.2 C257.9 150.5 264.8 148.7 266.7 148.6 C268.6 148.4 273.7 149.1 275.2 149.6 C276.7 150.2 280.3 152.8 281.5 153.9 C282.8 154.9 287.1 158.9 287.9 160.2 C288.6 161.5 289.7 165.3 289.4 166.5 C289.2 167.8 287.0 171.8 285.7 172.9 C284.5 173.9 279.2 176.6 277.3 177.1 C275.4 177.6 268.7 178.5 266.7 178.2 C264.7 177.8 258.9 174.9 257.2 173.9 C255.5 173.0 250.8 169.8 249.8 168.6 C248.8 167.5 247.2 163.6 247.2 162.3Z" fill="#f8d92b" stroke="#000" stroke-width="2.25" stroke-linejoin="round"/>
<path d="M262.0 164.9 L266.7 159.3 L281.0 165.7 L266.2 168.6Z" fill="#f8f719" stroke="#000" stroke-width="2.25" stroke-linejoin="round"/>
<path d="M133.4 0V383.6 M0 127.9H400.3" stroke="#262626" stroke-opacity="0.18" stroke-width="1.1" fill="none"/>
<path d="M266.9 0V383.6 M0 255.7H400.3" stroke="#262626" stroke-opacity="0.18" stroke-width="1.1" fill="none"/>
<path d="M-0.8 128.2 L5.5 125.1 L11.2 120.1 L16.8 116.3 L25.0 117.6 L30.1 123.0 L25.6 127.6 L20.0 130.7 L18.1 134.5 L21.9 138.3 L15.6 143.9 L23.1 141.4 L31.9 135.1 L42.0 132.0 L53.4 130.5 L62.2 132.0 L72.3 135.1 L68.5 143.9 L63.4 152.1 L71.0 157.1 L81.1 156.9 L87.4 161.5 L89.9 165.9 L82.3 167.2 L84.9 172.8 L89.9 181.6 L84.9 187.9 L84.9 194.1 L88.0 200.8 L94.9 196.7 L103.7 193.8 L113.8 191.6 L120.8 188.5 L124.5 181.0 L125.8 172.2 L123.9 162.8 L120.1 155.2 L113.8 148.3 L107.5 142.0 L100.0 137.6 L97.7 136.4 L99.7 132.6 L97.4 130.7 L103.7 128.9 L113.8 125.1 L122.6 120.1 L128.9 116.9 L129.6 111.3 L127.9 107.9 L134.0 101.7 L141.5 99.2 L144.1 95.2 L149.1 95.2 L156.0 87.3 L164.2 86.9 L165.2 91.1 L174.3 94.2 L183.1 91.7 L190.7 87.3 L199.5 83.9 L207.0 77.3 L208.9 72.9 L217.1 67.8 L225.9 60.9 L233.5 55.3 L241.1 47.8 L246.1 37.1 L250.5 32.9 L258.1 26.7 L265.7 21.1 L269.4 15.1 L272.0 8.8 L273.2 -1.2 M-2.1 160.2 L10.5 157.1 L16.2 159.6 L25.6 160.9 L34.5 162.4 L31.3 168.4 L27.5 166.5 L19.3 169.7 L10.5 172.8 L8.0 177.8 L-2.1 182.0 M-2.1 200.1 L4.9 201.7 L8.6 211.1 L13.0 222.4 L19.3 226.8 L23.8 228.8 L25.0 234.4 L16.8 234.1 L24.4 238.2 L26.3 243.9 L19.3 245.7 L13.0 250.1 L6.1 251.7 L11.8 252.9 L17.5 253.3 L27.9 255.5 L26.7 265.8 L21.6 266.7 L20.6 275.3 L18.7 279.0 L14.3 279.7 L8.0 287.8 L4.2 294.7 L-2.1 299.1 M2.3 338.1 L7.4 328.1 L14.3 319.9 L20.6 316.5 L25.4 319.3 L25.6 325.5 L21.9 335.6 L18.7 344.4 L13.0 351.9 L11.2 358.2 L9.3 353.8 L4.9 350.7 L2.3 343.1Z M101.2 305.4 L103.1 300.4 L108.2 296.6 L111.9 296.0 L111.3 299.1 L106.3 304.1 L103.1 306.6Z M122.4 280.3 L123.9 276.5 L128.3 274.6 L130.2 275.9 L126.4 279.7Z M127.1 214.9 L134.0 209.8 L140.9 207.3 L147.2 206.7 L154.8 208.6 L156.7 213.6 L157.9 218.6 L154.1 226.8 L152.2 232.6 L151.6 238.2 L142.8 242.6 L135.2 239.5 L134.4 232.4 L135.5 229.9 L138.4 226.8 L139.0 219.9 L135.9 216.1 L135.2 219.9 L130.2 219.9Z M271.6 113.2 L267.8 117.6 L266.5 123.2 L266.9 129.5 L265.9 136.4 L262.1 143.3 L258.4 151.5 L251.4 155.2 L247.0 160.2 L242.0 164.0 L227.1 169.4 L228.7 160.2 L223.3 163.4 L221.8 169.0 L213.0 177.8 L212.6 183.5 L208.6 185.4 L204.2 182.5 L192.8 183.7 L169.5 186.0 L161.3 191.0 L153.8 195.4 L146.2 199.5 L144.8 201.1 L146.1 205.4 L160.0 204.8 L168.8 201.1 L181.5 197.9 L192.8 194.1 L206.7 195.0 L202.9 199.8 L202.7 204.8 L205.4 211.1 L209.9 212.1 L216.8 204.2 L223.1 200.4 L220.3 197.0 L223.7 192.3 L230.0 197.3 L241.3 197.3 L248.9 191.0 L250.8 197.3 L253.3 189.8 L264.4 186.0 L263.4 192.9 L270.9 190.4 L272.5 186.0 L277.2 182.8 L274.7 175.9 L276.0 169.7 L279.8 163.4 L279.1 154.0 L281.0 149.3 L286.7 148.9 L287.3 143.3 L291.1 138.9 L292.4 131.4 L289.2 124.5 L285.1 117.6 L285.4 111.3 L277.5 109.1 L277.0 111.7 L281.0 112.2 L281.0 115.7 L276.0 116.3Z M163.9 213.6 L170.8 205.4 L175.8 206.1 L180.2 201.7 L187.8 200.8 L193.5 202.9 L195.1 207.3 L187.8 214.6 L184.0 211.7 L178.4 213.4 L172.1 221.1 L165.8 218.6Z M291.7 58.1 L286.7 61.6 L289.6 66.6 L288.6 72.2 L286.7 76.6 L283.3 80.4 L283.8 86.7 L270.7 86.9 L271.6 91.1 L264.0 94.2 L263.1 98.6 L266.5 101.7 L267.2 109.9 L281.0 104.9 L270.3 99.9 L271.6 96.7 L279.1 98.0 L291.1 94.8 L310.0 102.8 L312.5 98.0 L318.8 93.0 L324.5 89.8 L330.2 90.2 L344.6 84.2 L337.1 86.1 L336.2 82.9 L334.6 80.4 L337.7 74.1 L330.2 77.3 L318.8 74.1 L308.7 69.7 L301.2 64.7 L296.1 60.3Z M294.0 -1.2 L293.4 8.8 L290.9 16.4 L293.4 20.8 L295.3 25.8 L293.4 32.7 L293.1 39.0 L289.8 44.6 L293.1 52.5 L296.5 47.8 L301.6 43.4 L306.0 42.7 L312.3 48.4 L312.5 42.1 L307.9 37.7 L306.6 34.6 L302.2 30.2 L299.9 24.5 L301.2 17.6 L304.7 11.3 L309.8 8.6 L317.3 8.2 L324.2 12.3 L322.4 6.9 L319.8 -1.2 M339.4 77.6 L346.3 71.0 L352.3 70.6 L345.0 75.4Z M358.9 71.6 L367.7 63.5 L373.4 59.7 L375.9 60.9 L384.7 57.8 L376.5 62.8 L367.7 67.8Z M393.5 55.3 L398.6 51.5 L403.6 49.6 L403.6 54.0 L396.7 55.9Z" fill="none" stroke="#000" stroke-width="2.15" stroke-linejoin="round" stroke-linecap="round"/>
</g>
<path d="M133.4 0v5 M133.4 383.6v-5 M0 127.9h5 M400.3 127.9h-5 M266.9 0v5 M266.9 383.6v-5 M0 255.7h5 M400.3 255.7h-5" stroke="#262626" stroke-width="1.4" fill="none"/>
<rect x="0" y="0" width="400.3" height="383.6" fill="none" stroke="#222" stroke-width="1.9"/>
</g>
<rect x="1213.3" y="85.3" width="26.8" height="383.6" fill="url(#parb)" stroke="#222" stroke-width="1.9"/>
<text x="770.7" y="69.0" font-size="33.5" fill="#262626" text-anchor="middle" >120°E</text>
<text x="904.1" y="69.0" font-size="33.5" fill="#262626" text-anchor="middle" >130°E</text>
<text x="1037.6" y="69.0" font-size="33.5" fill="#262626" text-anchor="middle" >140°E</text>
<text x="1171.0" y="69.0" font-size="33.5" fill="#262626" text-anchor="middle" >150°E</text>
<text x="764.4" y="94.7" font-size="33.5" fill="#262626" text-anchor="end" >50°N</text>
<text x="764.4" y="222.9" font-size="33.5" fill="#262626" text-anchor="end" >40°N</text>
<text x="764.4" y="351.1" font-size="33.5" fill="#262626" text-anchor="end" >30°N</text>
<text x="764.4" y="479.3" font-size="33.5" fill="#262626" text-anchor="end" >20°N</text>
<text x="966.0" y="32.3" font-size="33.5" fill="#000" text-anchor="middle" >(b)</text>
<text x="1248.6" y="95.2" font-size="33.5" fill="#262626" text-anchor="start" >1</text>
<text x="1248.6" y="186.8" font-size="33.5" fill="#262626" text-anchor="start" >0.5</text>
<text x="1248.6" y="278.4" font-size="33.5" fill="#262626" text-anchor="start" >0</text>
<text x="1248.6" y="370.0" font-size="33.5" fill="#262626" text-anchor="start" >-0.5</text>
<text x="1248.6" y="461.6" font-size="33.5" fill="#262626" text-anchor="start" >-1</text>
<path d="M1240.1 176.6h-4.5 M1240.1 268.0h-4.5 M1240.1 359.3h-4.5 M1240.1 450.6h-4.5" stroke="#262626" stroke-width="1.4" fill="none"/>
<text transform="translate(1326.9 271.9) rotate(-90)" font-size="33.5" fill="#262626" text-anchor="middle">(km)</text>
<g transform="translate(1448.5 85.3)">
<g clip-path="url(#clc)">
<rect x="-5" y="-5" width="410.3" height="393.6" fill="#2797eb"/>
<path d="M60.5 -12.5 C58.3 -10.4 52.4 -4.7 47.4 -0.1 C42.5 4.6 36.4 9.8 31.0 15.7 C25.5 21.5 19.6 27.9 14.5 35.2 C9.3 42.4 3.9 52.6 -0.1 59.1 C-4.0 65.7 -7.8 72.0 -9.4 74.5 L-60.0 -60.0Z" fill="#12beb9" stroke="#000" stroke-width="2.25" stroke-linejoin="round"/>
<path d="M35.8 -13.2 C33.7 -11.0 27.5 -4.4 23.5 -0.1 C19.4 4.3 15.4 8.2 11.5 12.7 C7.5 17.2 3.7 22.2 -0.1 26.9 C-3.9 31.6 -9.5 38.6 -11.4 40.9 L-60.0 -60.0Z" fill="#81cc59" stroke="#000" stroke-width="2.25" stroke-linejoin="round"/>
<path d="M-3.5 227.4 C-3.0 222.7 -1.6 230.7 -0.1 233.1 C1.4 235.5 9.3 247.4 11.5 251.2 C13.7 254.9 19.7 266.8 22.0 270.7 C24.2 274.6 31.3 286.2 33.9 290.1 C36.6 294.0 45.8 305.9 48.9 309.6 C52.1 313.4 62.3 324.5 65.4 327.6 C68.6 330.8 78.1 339.3 80.4 341.1 C82.7 342.9 88.6 345.3 88.6 345.9 C88.6 346.5 82.0 347.4 80.4 347.4 C78.8 347.4 74.3 346.3 72.9 345.6 C71.6 344.9 68.9 341.2 66.9 340.3 C65.0 339.5 56.0 338.8 53.4 337.3 C50.9 335.9 44.1 328.7 41.4 326.1 C38.7 323.5 29.5 314.1 26.5 311.1 C23.5 308.1 14.1 298.8 11.5 296.1 C8.8 293.4 1.6 285.8 -0.1 284.2 C-1.7 282.5 -4.7 285.3 -5.0 279.7 C-5.4 274.0 -4.0 232.0 -3.5 227.4Z" fill="#12beb9" stroke="#000" stroke-width="2.25" stroke-linejoin="round"/>
<path d="M93.1 349.8 L103.6 358.3 L92.4 361.0Z" fill="#12beb9" stroke="#000" stroke-width="2.25" stroke-linejoin="round"/>
<path d="M91.8 -10.9 C89.4 -9.1 83.3 -4.5 77.4 -0.1 C71.5 4.4 62.9 9.8 56.4 15.7 C49.9 21.5 43.9 28.7 38.4 35.2 C32.9 41.7 28.0 47.6 23.5 54.6 C19.0 61.6 14.7 69.6 11.5 77.1 C8.2 84.6 5.8 92.6 4.0 99.6 C2.2 106.6 1.3 112.8 0.7 119.1 C0.0 125.3 0.2 130.4 0.1 137.2 C0.0 143.9 -0.2 153.4 0.2 159.7 C0.6 165.9 0.6 168.1 2.5 174.6 C4.4 181.1 8.0 190.6 11.5 198.6 C15.0 206.6 19.0 214.6 23.5 222.6 C28.0 230.6 35.4 242.1 38.4 246.6 C41.4 251.1 38.4 245.9 41.4 249.7 C44.4 253.5 51.4 263.2 56.4 269.2 C61.4 275.2 65.9 280.2 71.4 285.6 C76.9 291.1 83.1 296.8 89.4 302.1 C95.6 307.5 101.9 312.9 108.9 317.9 C115.9 322.9 123.9 327.7 131.4 332.1 C138.8 336.5 146.3 340.5 153.8 344.1 C161.3 347.7 168.8 351.0 176.3 353.8 C183.8 356.7 191.3 359.2 198.8 361.3 C206.3 363.4 213.8 365.2 221.3 366.6 C228.8 367.9 236.2 368.9 243.7 369.6 C251.2 370.3 258.3 370.7 266.2 370.8 C274.1 370.8 283.4 370.6 291.3 370.0 C299.3 369.4 306.3 368.5 313.8 367.3 C321.3 366.1 328.8 364.4 336.3 362.8 C343.8 361.2 351.3 359.5 358.8 357.6 C366.2 355.7 374.3 353.7 381.2 351.6 C388.1 349.5 394.1 347.0 400.1 344.8 C406.1 342.7 414.2 339.8 417.1 338.8 L460.3 344.8 L460.3 -60.0 L77.4 -60.0Z" fill="#475bf9" stroke="#000" stroke-width="2.25" stroke-linejoin="round"/>
<path d="M189.5 -13.6 C191.5 -11.3 193.2 -9.4 201.4 -0.1 C209.6 9.3 226.4 28.8 238.9 42.7 C251.4 56.5 265.1 70.9 276.3 83.1 C287.6 95.3 296.3 106.1 306.3 116.1 C316.3 126.1 326.3 133.4 336.3 143.2 C346.3 152.9 355.6 163.5 366.2 174.6 C376.9 185.8 392.4 201.8 400.1 209.9 C407.8 217.9 410.5 220.7 412.6 222.8 L460.3 209.9 L460.3 -60.0 L201.4 -60.0Z" fill="#2797eb" stroke="#000" stroke-width="2.25" stroke-linejoin="round"/>
<path d="M234.9 -11.7 C237.2 -9.8 243.0 -4.9 248.6 -0.1 C254.3 4.8 260.5 11.1 268.8 17.2 C277.2 23.3 287.6 29.4 298.8 36.7 C310.1 43.9 323.8 52.9 336.3 60.6 C348.8 68.4 363.1 76.9 373.7 83.1 C384.4 89.4 393.2 94.1 400.3 98.1 C407.3 102.1 413.3 105.5 415.9 107.0 L460.3 98.1 L460.3 -60.0 L248.6 -60.0Z" fill="#12beb9" stroke="#000" stroke-width="2.25" stroke-linejoin="round"/>
<path d="M278.7 -10.1 C281.1 -8.5 286.5 -4.9 293.6 -0.1 C300.7 4.7 311.7 12.3 321.3 18.7 C330.9 25.0 341.3 31.9 351.3 38.2 C361.3 44.4 373.1 51.3 381.2 56.1 C389.4 61.0 394.5 64.0 400.3 67.4 C406.0 70.8 413.2 75.0 415.8 76.5 L460.3 67.4 L460.3 -60.0 L293.6 -60.0Z" fill="#81cc59" stroke="#000" stroke-width="2.25" stroke-linejoin="round"/>
<path d="M318.6 -10.5 C321.0 -8.7 327.8 -3.9 333.3 -0.1 C338.7 3.8 344.5 8.1 351.3 12.7 C358.0 17.3 365.6 22.4 373.7 27.7 C381.9 32.9 393.3 39.8 400.3 44.2 C407.2 48.5 413.0 52.1 415.5 53.7 L460.3 44.2 L460.3 -60.0 L333.3 -60.0Z" fill="#fbbc3d" stroke="#000" stroke-width="2.25" stroke-linejoin="round"/>
<path d="M372.8 -15.9 C374.2 -13.3 378.8 -4.6 381.2 -0.1 C383.6 4.5 384.1 7.6 387.2 11.2 C390.4 14.8 395.8 18.0 400.3 21.7 C404.8 25.3 411.9 31.1 414.3 33.0 L460.3 21.7 L460.3 -60.0 L381.2 -60.0Z" fill="#f9fb15" stroke="#000" stroke-width="2.25" stroke-linejoin="round"/>
<path d="M125.4 9.7 C131.4 9.6 135.6 10.4 140.3 11.9 C145.1 13.4 150.0 15.8 153.8 18.7 C157.7 21.5 161.2 25.4 163.6 29.2 C165.9 32.9 167.3 36.9 168.1 41.2 C168.8 45.4 168.8 49.9 168.1 54.6 C167.3 59.4 165.4 64.6 163.6 69.6 C161.7 74.6 159.2 79.6 156.8 84.6 C154.5 89.6 151.8 94.4 149.3 99.6 C146.8 104.8 144.1 110.6 141.8 116.1 C139.6 121.6 137.7 126.9 135.8 132.6 C134.0 138.2 131.6 144.4 130.6 149.9 C129.6 155.4 129.4 160.3 129.6 165.6 C129.7 171.0 130.6 176.6 131.4 182.1 C132.1 187.6 133.1 193.4 134.3 198.6 C135.6 203.9 137.3 208.6 138.8 213.6 C140.3 218.6 142.0 223.6 143.3 228.6 C144.7 233.6 146.3 239.1 147.1 243.6 C147.9 248.1 148.8 252.3 148.1 255.6 C147.5 258.8 145.6 260.8 143.3 263.1 C141.0 265.3 137.3 268.2 134.3 269.0 C131.4 269.9 128.9 269.2 125.4 268.3 C121.9 267.4 118.1 266.2 113.4 263.8 C108.6 261.4 102.6 257.9 96.9 254.1 C91.1 250.2 84.6 245.6 78.9 240.6 C73.2 235.6 67.4 229.6 62.4 224.1 C57.4 218.6 52.9 213.4 48.9 207.6 C44.9 201.9 41.4 195.6 38.4 189.6 C35.4 183.6 32.9 177.9 31.0 171.6 C29.0 165.4 27.6 159.2 26.5 152.2 C25.3 145.2 24.7 134.0 24.2 129.7 C23.7 125.4 23.1 130.8 23.5 126.6 C23.8 122.3 24.7 111.6 26.5 104.1 C28.2 96.6 30.7 89.1 33.9 81.6 C37.2 74.1 40.9 66.4 45.9 59.1 C50.9 51.9 57.7 44.2 63.9 38.2 C70.2 32.2 76.7 27.4 83.4 23.2 C90.1 18.9 97.4 14.9 104.4 12.7 C111.4 10.4 119.4 9.8 125.4 9.7Z" fill="#3e26a8" stroke="#000" stroke-width="2.25" stroke-linejoin="round"/>
<path d="M248.6 158.2 C248.8 155.6 250.1 151.3 251.6 149.2 C253.1 147.1 257.4 143.8 259.9 142.4 C262.3 141.0 267.5 139.3 270.3 138.7 C273.1 138.1 278.0 137.6 280.8 137.9 C283.6 138.2 288.7 139.7 291.3 140.9 C293.9 142.1 298.2 145.2 300.3 146.9 C302.4 148.6 306.1 151.3 307.1 153.7 C308.1 156.1 309.1 161.7 307.8 164.9 C306.5 168.1 299.9 175.4 297.3 177.6 C294.7 179.8 290.9 180.6 288.3 181.4 C285.7 182.2 280.6 183.6 277.8 183.6 C275.0 183.6 270.1 182.4 267.3 181.4 C264.5 180.4 259.2 177.8 256.9 176.1 C254.6 174.4 251.2 171.0 250.1 168.6 C249.0 166.2 248.4 160.8 248.6 158.2Z" fill="#2797eb" stroke="#000" stroke-width="2.25" stroke-linejoin="round"/>
<path d="M133.4 0V383.6 M0 127.9H400.3" stroke="#262626" stroke-opacity="0.18" stroke-width="1.1" fill="none"/>
<path d="M266.9 0V383.6 M0 255.7H400.3" stroke="#262626" stroke-opacity="0.18" stroke-width="1.1" fill="none"/>
<path d="M-0.8 128.2 L5.5 125.1 L11.2 120.1 L16.8 116.3 L25.0 117.6 L30.1 123.0 L25.6 127.6 L20.0 130.7 L18.1 134.5 L21.9 138.3 L15.6 143.9 L23.1 141.4 L31.9 135.1 L42.0 132.0 L53.4 130.5 L62.2 132.0 L72.3 135.1 L68.5 143.9 L63.4 152.1 L71.0 157.1 L81.1 156.9 L87.4 161.5 L89.9 165.9 L82.3 167.2 L84.9 172.8 L89.9 181.6 L84.9 187.9 L84.9 194.1 L88.0 200.8 L94.9 196.7 L103.7 193.8 L113.8 191.6 L120.8 188.5 L124.5 181.0 L125.8 172.2 L123.9 162.8 L120.1 155.2 L113.8 148.3 L107.5 142.0 L100.0 137.6 L97.7 136.4 L99.7 132.6 L97.4 130.7 L103.7 128.9 L113.8 125.1 L122.6 120.1 L128.9 116.9 L129.6 111.3 L127.9 107.9 L134.0 101.7 L141.5 99.2 L144.1 95.2 L149.1 95.2 L156.0 87.3 L164.2 86.9 L165.2 91.1 L174.3 94.2 L183.1 91.7 L190.7 87.3 L199.5 83.9 L207.0 77.3 L208.9 72.9 L217.1 67.8 L225.9 60.9 L233.5 55.3 L241.1 47.8 L246.1 37.1 L250.5 32.9 L258.1 26.7 L265.7 21.1 L269.4 15.1 L272.0 8.8 L273.2 -1.2 M-2.1 160.2 L10.5 157.1 L16.2 159.6 L25.6 160.9 L34.5 162.4 L31.3 168.4 L27.5 166.5 L19.3 169.7 L10.5 172.8 L8.0 177.8 L-2.1 182.0 M-2.1 200.1 L4.9 201.7 L8.6 211.1 L13.0 222.4 L19.3 226.8 L23.8 228.8 L25.0 234.4 L16.8 234.1 L24.4 238.2 L26.3 243.9 L19.3 245.7 L13.0 250.1 L6.1 251.7 L11.8 252.9 L17.5 253.3 L27.9 255.5 L26.7 265.8 L21.6 266.7 L20.6 275.3 L18.7 279.0 L14.3 279.7 L8.0 287.8 L4.2 294.7 L-2.1 299.1 M2.3 338.1 L7.4 328.1 L14.3 319.9 L20.6 316.5 L25.4 319.3 L25.6 325.5 L21.9 335.6 L18.7 344.4 L13.0 351.9 L11.2 358.2 L9.3 353.8 L4.9 350.7 L2.3 343.1Z M101.2 305.4 L103.1 300.4 L108.2 296.6 L111.9 296.0 L111.3 299.1 L106.3 304.1 L103.1 306.6Z M122.4 280.3 L123.9 276.5 L128.3 274.6 L130.2 275.9 L126.4 279.7Z M127.1 214.9 L134.0 209.8 L140.9 207.3 L147.2 206.7 L154.8 208.6 L156.7 213.6 L157.9 218.6 L154.1 226.8 L152.2 232.6 L151.6 238.2 L142.8 242.6 L135.2 239.5 L134.4 232.4 L135.5 229.9 L138.4 226.8 L139.0 219.9 L135.9 216.1 L135.2 219.9 L130.2 219.9Z M271.6 113.2 L267.8 117.6 L266.5 123.2 L266.9 129.5 L265.9 136.4 L262.1 143.3 L258.4 151.5 L251.4 155.2 L247.0 160.2 L242.0 164.0 L227.1 169.4 L228.7 160.2 L223.3 163.4 L221.8 169.0 L213.0 177.8 L212.6 183.5 L208.6 185.4 L204.2 182.5 L192.8 183.7 L169.5 186.0 L161.3 191.0 L153.8 195.4 L146.2 199.5 L144.8 201.1 L146.1 205.4 L160.0 204.8 L168.8 201.1 L181.5 197.9 L192.8 194.1 L206.7 195.0 L202.9 199.8 L202.7 204.8 L205.4 211.1 L209.9 212.1 L216.8 204.2 L223.1 200.4 L220.3 197.0 L223.7 192.3 L230.0 197.3 L241.3 197.3 L248.9 191.0 L250.8 197.3 L253.3 189.8 L264.4 186.0 L263.4 192.9 L270.9 190.4 L272.5 186.0 L277.2 182.8 L274.7 175.9 L276.0 169.7 L279.8 163.4 L279.1 154.0 L281.0 149.3 L286.7 148.9 L287.3 143.3 L291.1 138.9 L292.4 131.4 L289.2 124.5 L285.1 117.6 L285.4 111.3 L277.5 109.1 L277.0 111.7 L281.0 112.2 L281.0 115.7 L276.0 116.3Z M163.9 213.6 L170.8 205.4 L175.8 206.1 L180.2 201.7 L187.8 200.8 L193.5 202.9 L195.1 207.3 L187.8 214.6 L184.0 211.7 L178.4 213.4 L172.1 221.1 L165.8 218.6Z M291.7 58.1 L286.7 61.6 L289.6 66.6 L288.6 72.2 L286.7 76.6 L283.3 80.4 L283.8 86.7 L270.7 86.9 L271.6 91.1 L264.0 94.2 L263.1 98.6 L266.5 101.7 L267.2 109.9 L281.0 104.9 L270.3 99.9 L271.6 96.7 L279.1 98.0 L291.1 94.8 L310.0 102.8 L312.5 98.0 L318.8 93.0 L324.5 89.8 L330.2 90.2 L344.6 84.2 L337.1 86.1 L336.2 82.9 L334.6 80.4 L337.7 74.1 L330.2 77.3 L318.8 74.1 L308.7 69.7 L301.2 64.7 L296.1 60.3Z M294.0 -1.2 L293.4 8.8 L290.9 16.4 L293.4 20.8 L295.3 25.8 L293.4 32.7 L293.1 39.0 L289.8 44.6 L293.1 52.5 L296.5 47.8 L301.6 43.4 L306.0 42.7 L312.3 48.4 L312.5 42.1 L307.9 37.7 L306.6 34.6 L302.2 30.2 L299.9 24.5 L301.2 17.6 L304.7 11.3 L309.8 8.6 L317.3 8.2 L324.2 12.3 L322.4 6.9 L319.8 -1.2 M339.4 77.6 L346.3 71.0 L352.3 70.6 L345.0 75.4Z M358.9 71.6 L367.7 63.5 L373.4 59.7 L375.9 60.9 L384.7 57.8 L376.5 62.8 L367.7 67.8Z M393.5 55.3 L398.6 51.5 L403.6 49.6 L403.6 54.0 L396.7 55.9Z" fill="none" stroke="#000" stroke-width="2.15" stroke-linejoin="round" stroke-linecap="round"/>
</g>
<path d="M133.4 0v5 M133.4 383.6v-5 M0 127.9h5 M400.3 127.9h-5 M266.9 0v5 M266.9 383.6v-5 M0 255.7h5 M400.3 255.7h-5" stroke="#262626" stroke-width="1.4" fill="none"/>
<rect x="0" y="0" width="400.3" height="383.6" fill="none" stroke="#222" stroke-width="1.9"/>
</g>
<rect x="1899.0" y="85.3" width="26.6" height="383.6" fill="url(#parc)" stroke="#222" stroke-width="1.9"/>
<text x="1456.0" y="69.0" font-size="33.5" fill="#262626" text-anchor="middle" >120°E</text>
<text x="1589.4" y="69.0" font-size="33.5" fill="#262626" text-anchor="middle" >130°E</text>
<text x="1722.9" y="69.0" font-size="33.5" fill="#262626" text-anchor="middle" >140°E</text>
<text x="1856.3" y="69.0" font-size="33.5" fill="#262626" text-anchor="middle" >150°E</text>
<text x="1449.7" y="94.7" font-size="33.5" fill="#262626" text-anchor="end" >50°N</text>
<text x="1449.7" y="222.9" font-size="33.5" fill="#262626" text-anchor="end" >40°N</text>
<text x="1449.7" y="351.1" font-size="33.5" fill="#262626" text-anchor="end" >30°N</text>
<text x="1449.7" y="479.3" font-size="33.5" fill="#262626" text-anchor="end" >20°N</text>
<text x="1651.2" y="32.3" font-size="33.5" fill="#000" text-anchor="middle" >(c)</text>
<text x="1934.1" y="95.2" font-size="33.5" fill="#262626" text-anchor="start" >16</text>
<text x="1934.1" y="159.3" font-size="33.5" fill="#262626" text-anchor="start" >12</text>
<text x="1934.1" y="223.4" font-size="33.5" fill="#262626" text-anchor="start" >8</text>
<text x="1934.1" y="287.6" font-size="33.5" fill="#262626" text-anchor="start" >4</text>
<text x="1934.1" y="351.7" font-size="33.5" fill="#262626" text-anchor="start" >0</text>
<text x="1934.1" y="415.8" font-size="33.5" fill="#262626" text-anchor="start" >-4</text>
<text x="1934.1" y="479.9" font-size="33.5" fill="#262626" text-anchor="start" >-8</text>
<path d="M1925.6 149.2h-4.5 M1925.6 213.2h-4.5 M1925.6 277.1h-4.5 M1925.6 341.0h-4.5 M1925.6 405.0h-4.5" stroke="#262626" stroke-width="1.4" fill="none"/>
<text x="1926.7" y="73.0" font-size="33.5" fill="#262626">×10</text><text x="1977.7" y="59.6" font-size="25.5" fill="#262626">-3</text>
<g transform="translate(92.8 611.4)">
<g clip-path="url(#cld)">
<rect x="-5" y="-5" width="406.8" height="391.3" fill="#fabb3d"/>
<path d="M224.0 89.2 L290.8 89.2 L292.2 101.7 L359.2 169.9 L369.9 178.0 L358.0 190.0 L358.2 204.1 L344.5 216.6 L332.0 216.6 L318.3 229.7 L290.8 229.7 L277.7 241.6 L264.0 241.6 L250.8 229.7 L224.6 229.7 L185.3 188.5 L184.7 177.3 L171.6 163.5 L171.6 152.3 L185.3 138.6 L185.3 126.7Z" fill="#71cd64" stroke="#000" stroke-width="2.20" stroke-linejoin="round"/>
<path d="M187.8 148.5 L188.2 139.8 L192.2 127.3 L210.9 108.6 L229.6 103.0 L237.1 97.0 L250.8 95.5 L260.8 97.0 L273.4 103.6 L274.7 116.1 L303.4 143.5 L309.7 151.7 L313.4 164.1 L328.4 178.5 L330.3 181.6 L342.1 191.0 L335.9 202.2 L329.6 208.5 L324.3 214.0 L304.8 222.5 L281.9 224.2 L252.2 224.6 L237.0 223.3 L212.1 209.1 L202.1 196.6 L192.2 184.1 L187.0 174.8 L187.0 158.5Z" fill="#01b8ca" stroke="#000" stroke-width="2.20" stroke-linejoin="round"/>
<path d="M191.5 148.5 L192.2 139.8 L195.3 128.6 L212.1 114.8 L223.4 109.2 L237.7 107.3 L259.6 126.7 L250.2 139.8 L248.3 148.5 L250.8 153.5 L253.3 164.1 L264.1 179.1 L278.4 177.9 L290.3 198.5 L295.9 190.4 L304.0 184.5 L310.9 190.1 L304.0 197.2 L295.4 203.9 L303.0 209.0 L306.4 216.6 L281.9 219.5 L252.2 220.7 L237.9 218.2 L215.0 205.5 L204.6 196.0 L195.3 184.1 L190.3 174.8 L190.3 158.5Z" fill="#2e85f8" stroke="#000" stroke-width="2.20" stroke-linejoin="round"/>
<path d="M194.7 148.5 L195.3 138.6 L202.1 127.3 L214.6 118.6 L224.6 112.7 L231.5 114.8 L224.0 121.1 L221.5 127.3 L224.6 131.7 L237.7 123.6 L249.6 127.3 L239.0 131.7 L235.9 138.6 L235.2 148.5 L235.2 176.6 L240.9 181.0 L250.2 184.1 L255.2 189.7 L251.5 192.9 L237.9 206.0 L225.1 206.9 L218.4 199.6 L204.8 188.6 L197.2 181.0 L194.0 174.8 L194.0 158.5Z" fill="#4743e7" stroke="#000" stroke-width="2.20" stroke-linejoin="round"/>
<path d="M219.0 194.7 L227.1 190.4 L229.6 194.7 L242.1 194.7 L247.1 189.7 L249.0 193.5 L239.6 201.6 L227.1 202.9 L220.9 199.1Z" fill="#4743e7" stroke="#000" stroke-width="2.20" stroke-linejoin="round"/>
<path d="M243.4 216.1 L264.1 205.1 L276.8 209.0 L286.2 216.1 L265.0 217.8Z" fill="#4743e7" stroke="#000" stroke-width="2.20" stroke-linejoin="round"/>
<path d="M197.2 147.3 L200.3 141.7 L203.0 151.7 L203.0 166.0 L198.4 174.8 L196.9 168.5Z" fill="#422ebe" stroke="#000" stroke-width="2.20" stroke-linejoin="round"/>
<path d="M220.3 151.7 L224.6 144.2 L229.0 151.7 L227.1 164.1 L223.4 178.5 L220.6 168.5Z" fill="#422ebe" stroke="#000" stroke-width="2.20" stroke-linejoin="round"/>
<path d="M210.9 184.8 L213.4 189.7 L210.9 192.2 L209.0 189.7Z" fill="#422ebe" stroke="#000" stroke-width="2.20" stroke-linejoin="round"/>
<path d="M211.1 151.0L211.1 166.0" stroke="#000" stroke-width="3" stroke-linecap="round"/>
<circle cx="211.5" cy="127.9" r="2.2" fill="#000"/>
<circle cx="224.6" cy="190.1" r="2.4" fill="#000"/>
<circle cx="237.7" cy="190.7" r="1.2" fill="#000"/>
<circle cx="224.6" cy="202.9" r="1.4" fill="#000"/>
<circle cx="226.1" cy="163.5" r="1.8" fill="#000"/>
<path d="M261.6 150.4 L276.6 145.2 L286.6 151.7 L289.3 164.8 L277.2 170.1 L265.3 169.8 L261.0 164.8Z" fill="#71cd64" stroke="#000" stroke-width="2.20" stroke-linejoin="round"/>
<path d="M327.1 115.1L330.1 112.1L333.1 115.1L330.1 118.6Z" fill="#f9fb15" stroke="#000" stroke-width="2.4" stroke-linejoin="round"/>
<path d="M340.4 127.8L343.4 124.8L346.4 127.8L343.4 131.3Z" fill="#f9fb15" stroke="#000" stroke-width="2.4" stroke-linejoin="round"/>
<path d="M132.3 0V381.3 M0 127.1H396.8" stroke="#262626" stroke-opacity="0.18" stroke-width="1.1" fill="none"/>
<path d="M264.5 0V381.3 M0 254.2H396.8" stroke="#262626" stroke-opacity="0.18" stroke-width="1.1" fill="none"/>
<path d="M-0.8 127.5 L5.4 124.3 L11.1 119.3 L16.7 115.6 L24.8 116.9 L29.8 122.2 L25.4 126.8 L19.8 130.0 L17.9 133.7 L21.7 137.4 L15.4 143.1 L22.9 140.6 L31.7 134.3 L41.7 131.2 L52.9 129.7 L61.6 131.2 L71.6 134.3 L67.9 143.1 L62.9 151.2 L70.4 156.2 L80.4 155.9 L86.6 160.5 L89.1 164.9 L81.6 166.2 L84.1 171.8 L89.1 180.5 L84.1 186.7 L84.1 193.0 L87.2 199.6 L94.1 195.5 L102.8 192.6 L112.8 190.5 L119.7 187.4 L123.4 179.9 L124.7 171.1 L122.8 161.8 L119.1 154.3 L112.8 147.4 L106.6 141.2 L99.1 136.8 L96.8 135.6 L98.8 131.8 L96.6 130.0 L102.8 128.1 L112.8 124.3 L121.6 119.3 L127.8 116.2 L128.4 110.6 L126.8 107.2 L132.8 101.1 L140.3 98.6 L142.8 94.6 L147.8 94.6 L154.7 86.8 L162.8 86.4 L163.8 90.5 L172.8 93.7 L181.5 91.2 L189.0 86.8 L197.7 83.4 L205.2 76.8 L207.1 72.4 L215.2 67.4 L224.0 60.6 L231.5 55.0 L239.0 47.5 L244.0 36.9 L248.4 32.7 L255.8 26.5 L263.3 21.0 L267.1 15.0 L269.6 8.8 L270.8 -1.2 M-2.1 159.3 L10.4 156.2 L16.1 158.7 L25.4 159.9 L34.2 161.4 L31.0 167.4 L27.3 165.5 L19.2 168.6 L10.4 171.8 L7.9 176.8 L-2.1 180.9 M-2.1 198.9 L4.8 200.5 L8.6 209.8 L12.9 221.1 L19.2 225.4 L23.5 227.4 L24.8 233.0 L16.7 232.7 L24.2 236.8 L26.0 242.4 L19.2 244.3 L12.9 248.6 L6.1 250.1 L11.7 251.4 L17.3 251.8 L27.7 254.0 L26.4 264.2 L21.4 265.1 L20.4 273.6 L18.6 277.4 L14.2 278.0 L7.9 286.1 L4.2 293.0 L-2.1 297.3 M2.3 336.1 L7.3 326.1 L14.2 318.0 L20.4 314.6 L25.2 317.4 L25.4 323.6 L21.7 333.6 L18.6 342.3 L12.9 349.8 L11.1 356.0 L9.2 351.7 L4.8 348.6 L2.3 341.1Z M100.3 303.6 L102.2 298.6 L107.2 294.8 L111.0 294.2 L110.3 297.3 L105.3 302.3 L102.2 304.8Z M121.3 278.6 L122.8 274.9 L127.2 273.0 L129.1 274.2 L125.3 278.0Z M125.9 213.6 L132.8 208.6 L139.7 206.1 L145.9 205.5 L153.4 207.3 L155.3 212.3 L156.5 217.3 L152.8 225.4 L150.9 231.2 L150.3 236.8 L141.6 241.2 L134.1 238.0 L133.2 231.1 L134.3 228.6 L137.2 225.4 L137.8 218.6 L134.7 214.8 L134.1 218.6 L129.1 218.6Z M269.2 112.5 L265.5 116.9 L264.2 122.5 L264.6 128.7 L263.6 135.6 L259.8 142.4 L256.1 150.5 L249.2 154.3 L244.9 159.3 L239.9 163.0 L225.1 168.4 L226.7 159.3 L221.4 162.4 L219.9 168.0 L211.1 176.8 L210.8 182.4 L206.8 184.2 L202.4 181.4 L191.2 182.6 L168.1 184.9 L159.9 189.9 L152.4 194.2 L145.0 198.4 L143.6 199.8 L144.8 204.2 L158.6 203.6 L167.3 199.8 L179.9 196.7 L191.2 193.0 L204.9 193.9 L201.1 198.6 L200.9 203.6 L203.6 209.8 L208.0 210.8 L214.9 203.0 L221.1 199.2 L218.4 195.9 L221.8 191.1 L228.0 196.1 L239.2 196.1 L246.7 189.9 L248.6 196.1 L251.1 188.6 L262.1 184.9 L261.1 191.7 L268.6 189.2 L270.1 184.9 L274.8 181.8 L272.3 174.9 L273.6 168.6 L277.3 162.4 L276.7 153.0 L278.6 148.4 L284.2 148.1 L284.8 142.4 L288.6 138.1 L289.8 130.6 L286.7 123.7 L282.6 116.9 L282.9 110.6 L275.1 108.5 L274.6 111.0 L278.6 111.5 L278.6 115.0 L273.6 115.6Z M162.4 212.3 L169.3 204.2 L174.3 204.8 L178.7 200.5 L186.2 199.6 L191.8 201.7 L193.4 206.1 L186.2 213.3 L182.4 210.5 L176.8 212.1 L170.6 219.8 L164.3 217.3Z M289.2 57.7 L284.2 61.2 L287.1 66.2 L286.1 71.8 L284.2 76.2 L280.8 79.9 L281.3 86.2 L268.3 86.4 L269.2 90.5 L261.7 93.7 L260.8 98.0 L264.2 101.1 L264.8 109.3 L278.6 104.3 L268.0 99.3 L269.2 96.1 L276.7 97.4 L288.6 94.3 L307.3 102.1 L309.8 97.4 L316.0 92.4 L321.7 89.3 L327.3 89.7 L341.6 83.7 L334.1 85.5 L333.3 82.4 L331.6 79.9 L334.8 73.7 L327.3 76.8 L316.0 73.7 L306.0 69.3 L298.6 64.3 L293.6 60.0Z M291.4 -1.2 L290.8 8.8 L288.3 16.3 L290.8 20.6 L292.7 25.6 L290.8 32.5 L290.6 38.7 L287.3 44.4 L290.6 52.2 L293.9 47.5 L298.9 43.1 L303.3 42.5 L309.5 48.1 L309.8 41.9 L305.2 37.5 L303.9 34.4 L299.6 30.0 L297.3 24.4 L298.6 17.5 L302.1 11.3 L307.0 8.5 L314.5 8.2 L321.4 12.3 L319.5 6.9 L317.0 -1.2 M336.4 77.2 L343.3 70.6 L349.3 70.2 L342.0 74.9Z M355.7 71.2 L364.5 63.1 L370.1 59.3 L372.6 60.6 L381.3 57.5 L373.2 62.4 L364.5 67.4Z M390.1 55.0 L395.1 51.2 L400.1 49.3 L400.1 53.7 L393.2 55.6Z" fill="none" stroke="#000" stroke-width="2.15" stroke-linejoin="round" stroke-linecap="round"/>
</g>
<path d="M132.3 0v5 M132.3 381.3v-5 M0 127.1h5 M396.8 127.1h-5 M264.5 0v5 M264.5 381.3v-5 M0 254.2h5 M396.8 254.2h-5" stroke="#262626" stroke-width="1.4" fill="none"/>
<rect x="0" y="0" width="396.8" height="381.3" fill="none" stroke="#222" stroke-width="1.9"/>
</g>
<rect x="538.3" y="611.4" width="26.6" height="381.3" fill="url(#pard)" stroke="#222" stroke-width="1.9"/>
<text x="100.3" y="596.5" font-size="33.5" fill="#262626" text-anchor="middle" >120°E</text>
<text x="232.6" y="596.5" font-size="33.5" fill="#262626" text-anchor="middle" >130°E</text>
<text x="364.8" y="596.5" font-size="33.5" fill="#262626" text-anchor="middle" >140°E</text>
<text x="497.1" y="596.5" font-size="33.5" fill="#262626" text-anchor="middle" >150°E</text>
<text x="94.0" y="620.8" font-size="33.5" fill="#262626" text-anchor="end" >50°N</text>
<text x="94.0" y="748.2" font-size="33.5" fill="#262626" text-anchor="end" >40°N</text>
<text x="94.0" y="875.7" font-size="33.5" fill="#262626" text-anchor="end" >30°N</text>
<text x="94.0" y="1003.1" font-size="33.5" fill="#262626" text-anchor="end" >20°N</text>
<text x="293.8" y="558.4" font-size="33.5" fill="#000" text-anchor="middle" >(d)</text>
<text x="573.4" y="621.8" font-size="33.5" fill="#262626" text-anchor="start" >0.5</text>
<text x="573.4" y="685.3" font-size="33.5" fill="#262626" text-anchor="start" >0</text>
<text x="573.4" y="748.8" font-size="33.5" fill="#262626" text-anchor="start" >-0.5</text>
<text x="573.4" y="812.2" font-size="33.5" fill="#262626" text-anchor="start" >-1</text>
<text x="573.4" y="875.7" font-size="33.5" fill="#262626" text-anchor="start" >-1.5</text>
<text x="573.4" y="939.2" font-size="33.5" fill="#262626" text-anchor="start" >-2</text>
<text x="573.4" y="1002.7" font-size="33.5" fill="#262626" text-anchor="start" >-2.5</text>
<path d="M564.9 674.9h-4.5 M564.9 738.5h-4.5 M564.9 802.0h-4.5 M564.9 865.6h-4.5 M564.9 929.1h-4.5" stroke="#262626" stroke-width="1.4" fill="none"/>
<text x="566.5" y="1032.8" font-size="33.5" fill="#262626">×10</text><text x="617.5" y="1019.4" font-size="25.5" fill="#262626">-3</text>
<g transform="translate(771.3 611.4)">
<g clip-path="url(#cle)">
<rect x="-5" y="-5" width="406.8" height="391.3" fill="#71cd64"/>
<path d="M147.1 -17.4 C147.8 -15.1 151.3 -4.1 152.5 -0.3 C153.7 3.6 155.7 8.2 156.3 11.6 C156.9 15.0 157.7 21.5 157.0 25.1 C156.3 28.7 153.2 34.8 151.0 38.6 C148.8 42.4 143.5 49.5 140.5 53.5 C137.5 57.5 132.1 64.3 128.6 68.5 C125.0 72.7 117.6 80.8 113.6 85.0 C109.6 89.2 101.0 96.2 98.6 100.0 C96.2 103.8 96.2 108.7 95.6 113.5 C94.9 118.3 94.1 130.1 93.8 136.1 C93.5 142.1 93.3 152.6 93.3 158.6 C93.4 164.5 93.6 176.2 94.1 181.0 C94.6 185.8 95.9 190.7 97.1 194.5 C98.3 198.3 101.3 205.1 103.1 209.5 C104.9 213.9 108.0 222.1 110.6 227.5 C113.2 232.9 120.0 244.7 122.6 250.1 C125.2 255.5 128.6 263.3 130.0 268.1 C131.5 272.9 133.2 281.3 133.8 286.0 C134.4 290.8 134.8 299.0 134.8 304.0 C134.8 309.0 134.2 318.5 133.8 323.5 C133.4 328.5 132.1 336.5 131.5 341.5 C131.0 346.5 129.9 355.7 129.7 361.0 C129.5 366.3 130.0 376.1 130.0 381.2 C130.1 386.3 130.3 396.8 130.3 399.2 L130.0 441.3 L-60.0 441.3 L-60.0 -60.0 L152.5 -60.0Z" fill="#d7be28" stroke="#000" stroke-width="2.25" stroke-linejoin="round"/>
<path d="M101.0 -17.9 C101.6 -15.0 103.5 -5.4 104.6 -0.3 C105.6 4.9 107.0 8.4 107.3 13.1 C107.5 17.8 107.3 22.6 106.1 28.1 C104.9 33.6 102.6 39.8 100.1 46.0 C97.6 52.3 94.3 58.8 91.1 65.5 C87.8 72.3 84.1 79.5 80.6 86.5 C77.1 93.5 73.6 100.2 70.1 107.5 C66.6 114.7 62.4 122.8 59.6 130.1 C56.9 137.3 55.6 143.8 53.6 151.1 C51.6 158.3 49.6 166.3 47.6 173.5 C45.6 180.8 43.6 188.0 41.6 194.5 C39.6 201.0 37.9 207.0 35.6 212.5 C33.4 218.0 30.9 223.0 28.2 227.5 C25.4 232.0 22.4 235.7 19.2 239.5 C15.9 243.2 11.9 246.8 8.7 250.0 C5.5 253.1 3.6 254.8 -0.0 258.2 C-3.6 261.6 -10.9 268.5 -13.1 270.6 L-60.0 258.2 L-60.0 -60.0 L104.6 -60.0Z" fill="#fcd030" stroke="#000" stroke-width="2.25" stroke-linejoin="round"/>
<path d="M40.9 -18.1 C41.3 -15.1 42.5 -5.2 43.1 -0.3 C43.8 4.7 44.5 7.1 44.6 11.6 C44.8 16.1 44.6 21.3 43.9 26.6 C43.1 31.8 42.0 37.6 40.1 43.1 C38.3 48.5 35.6 54.3 32.6 59.5 C29.6 64.8 25.9 70.0 22.2 74.5 C18.4 79.0 13.9 83.3 10.2 86.5 C6.5 89.8 4.1 91.0 -0.0 94.0 C-4.1 97.0 -12.1 102.9 -14.5 104.7 L-60.0 94.0 L-60.0 -60.0 L43.1 -60.0Z" fill="#f9fb15" stroke="#000" stroke-width="2.25" stroke-linejoin="round"/>
<path d="M-9.7 294.8 L-0.0 310.0 L16.2 335.5 L29.6 358.0 L43.1 381.2 L52.2 396.8 L-60.0 441.3Z" fill="#fcd030" stroke="#000" stroke-width="2.25" stroke-linejoin="round"/>
<path d="M188.1 -13.3 L200.5 -0.3 L224.5 25.1 L224.2 25.6 L317.1 25.6 L330.1 37.6 L370.5 38.1 L396.8 63.5 L409.7 76.1 L456.8 123.5 L456.8 -60.0 L140.5 -60.0Z" fill="#27c2ac" stroke="#000" stroke-width="2.25" stroke-linejoin="round"/>
<path d="M231.9 -8.0 L248.2 -0.2 L268.6 9.6 L288.6 15.1 L308.6 17.6 L330.1 20.6 L343.6 29.6 L370.5 33.1 L383.5 43.6 L396.8 45.5 L414.6 48.2 L456.8 45.5 L456.8 -60.0 L248.2 -60.0Z" fill="#19addc" stroke="#000" stroke-width="2.25" stroke-linejoin="round"/>
<path d="M278.7 -8.5 L294.6 -0.2 L308.6 7.1 L321.6 12.1 L330.1 13.6 L356.6 23.6 L370.5 27.1 L383.5 37.6 L396.8 40.6 L414.4 44.5 L456.8 40.6 L456.8 -60.0 L294.6 -60.0Z" fill="#2d88f6" stroke="#000" stroke-width="2.25" stroke-linejoin="round"/>
<path d="M315.3 -7.8 C318.0 -6.6 323.5 -4.0 331.6 -0.2 C339.6 3.6 352.7 9.8 363.5 14.8 C374.4 19.7 388.5 25.9 396.8 29.6 C405.1 33.2 410.5 35.7 413.3 36.9 L456.8 29.6 L456.8 -60.0 L331.6 -60.0Z" fill="#475cfa" stroke="#000" stroke-width="2.25" stroke-linejoin="round"/>
<path d="M342.2 -7.8 C344.9 -6.5 349.5 -4.4 358.6 -0.2 C367.6 4.0 387.7 13.3 396.8 17.6 C405.9 21.8 410.4 23.9 413.1 25.2 L456.8 17.6 L456.8 -60.0 L358.6 -60.0Z" fill="#4433cc" stroke="#000" stroke-width="2.25" stroke-linejoin="round"/>
<path d="M368.8 -8.9 C371.4 -7.5 379.9 -2.8 384.5 -0.2 C389.2 2.4 392.1 4.0 396.8 6.6 C401.5 9.2 409.9 13.8 412.6 15.3 L456.8 6.6 L456.8 -60.0 L384.5 -60.0Z" fill="#3e26a8" stroke="#000" stroke-width="2.25" stroke-linejoin="round"/>
<path d="M132.3 0V381.3 M0 127.1H396.8" stroke="#262626" stroke-opacity="0.18" stroke-width="1.1" fill="none"/>
<path d="M264.5 0V381.3 M0 254.2H396.8" stroke="#262626" stroke-opacity="0.18" stroke-width="1.1" fill="none"/>
<path d="M-0.8 127.5 L5.4 124.3 L11.1 119.3 L16.7 115.6 L24.8 116.9 L29.8 122.2 L25.4 126.8 L19.8 130.0 L17.9 133.7 L21.7 137.4 L15.4 143.1 L22.9 140.6 L31.7 134.3 L41.7 131.2 L52.9 129.7 L61.6 131.2 L71.6 134.3 L67.9 143.1 L62.9 151.2 L70.4 156.2 L80.4 155.9 L86.6 160.5 L89.1 164.9 L81.6 166.2 L84.1 171.8 L89.1 180.5 L84.1 186.7 L84.1 193.0 L87.2 199.6 L94.1 195.5 L102.8 192.6 L112.8 190.5 L119.7 187.4 L123.4 179.9 L124.7 171.1 L122.8 161.8 L119.1 154.3 L112.8 147.4 L106.6 141.2 L99.1 136.8 L96.8 135.6 L98.8 131.8 L96.6 130.0 L102.8 128.1 L112.8 124.3 L121.6 119.3 L127.8 116.2 L128.4 110.6 L126.8 107.2 L132.8 101.1 L140.3 98.6 L142.8 94.6 L147.8 94.6 L154.7 86.8 L162.8 86.4 L163.8 90.5 L172.8 93.7 L181.5 91.2 L189.0 86.8 L197.7 83.4 L205.2 76.8 L207.1 72.4 L215.2 67.4 L224.0 60.6 L231.5 55.0 L239.0 47.5 L244.0 36.9 L248.4 32.7 L255.8 26.5 L263.3 21.0 L267.1 15.0 L269.6 8.8 L270.8 -1.2 M-2.1 159.3 L10.4 156.2 L16.1 158.7 L25.4 159.9 L34.2 161.4 L31.0 167.4 L27.3 165.5 L19.2 168.6 L10.4 171.8 L7.9 176.8 L-2.1 180.9 M-2.1 198.9 L4.8 200.5 L8.6 209.8 L12.9 221.1 L19.2 225.4 L23.5 227.4 L24.8 233.0 L16.7 232.7 L24.2 236.8 L26.0 242.4 L19.2 244.3 L12.9 248.6 L6.1 250.1 L11.7 251.4 L17.3 251.8 L27.7 254.0 L26.4 264.2 L21.4 265.1 L20.4 273.6 L18.6 277.4 L14.2 278.0 L7.9 286.1 L4.2 293.0 L-2.1 297.3 M2.3 336.1 L7.3 326.1 L14.2 318.0 L20.4 314.6 L25.2 317.4 L25.4 323.6 L21.7 333.6 L18.6 342.3 L12.9 349.8 L11.1 356.0 L9.2 351.7 L4.8 348.6 L2.3 341.1Z M100.3 303.6 L102.2 298.6 L107.2 294.8 L111.0 294.2 L110.3 297.3 L105.3 302.3 L102.2 304.8Z M121.3 278.6 L122.8 274.9 L127.2 273.0 L129.1 274.2 L125.3 278.0Z M125.9 213.6 L132.8 208.6 L139.7 206.1 L145.9 205.5 L153.4 207.3 L155.3 212.3 L156.5 217.3 L152.8 225.4 L150.9 231.2 L150.3 236.8 L141.6 241.2 L134.1 238.0 L133.2 231.1 L134.3 228.6 L137.2 225.4 L137.8 218.6 L134.7 214.8 L134.1 218.6 L129.1 218.6Z M269.2 112.5 L265.5 116.9 L264.2 122.5 L264.6 128.7 L263.6 135.6 L259.8 142.4 L256.1 150.5 L249.2 154.3 L244.9 159.3 L239.9 163.0 L225.1 168.4 L226.7 159.3 L221.4 162.4 L219.9 168.0 L211.1 176.8 L210.8 182.4 L206.8 184.2 L202.4 181.4 L191.2 182.6 L168.1 184.9 L159.9 189.9 L152.4 194.2 L145.0 198.4 L143.6 199.8 L144.8 204.2 L158.6 203.6 L167.3 199.8 L179.9 196.7 L191.2 193.0 L204.9 193.9 L201.1 198.6 L200.9 203.6 L203.6 209.8 L208.0 210.8 L214.9 203.0 L221.1 199.2 L218.4 195.9 L221.8 191.1 L228.0 196.1 L239.2 196.1 L246.7 189.9 L248.6 196.1 L251.1 188.6 L262.1 184.9 L261.1 191.7 L268.6 189.2 L270.1 184.9 L274.8 181.8 L272.3 174.9 L273.6 168.6 L277.3 162.4 L276.7 153.0 L278.6 148.4 L284.2 148.1 L284.8 142.4 L288.6 138.1 L289.8 130.6 L286.7 123.7 L282.6 116.9 L282.9 110.6 L275.1 108.5 L274.6 111.0 L278.6 111.5 L278.6 115.0 L273.6 115.6Z M162.4 212.3 L169.3 204.2 L174.3 204.8 L178.7 200.5 L186.2 199.6 L191.8 201.7 L193.4 206.1 L186.2 213.3 L182.4 210.5 L176.8 212.1 L170.6 219.8 L164.3 217.3Z M289.2 57.7 L284.2 61.2 L287.1 66.2 L286.1 71.8 L284.2 76.2 L280.8 79.9 L281.3 86.2 L268.3 86.4 L269.2 90.5 L261.7 93.7 L260.8 98.0 L264.2 101.1 L264.8 109.3 L278.6 104.3 L268.0 99.3 L269.2 96.1 L276.7 97.4 L288.6 94.3 L307.3 102.1 L309.8 97.4 L316.0 92.4 L321.7 89.3 L327.3 89.7 L341.6 83.7 L334.1 85.5 L333.3 82.4 L331.6 79.9 L334.8 73.7 L327.3 76.8 L316.0 73.7 L306.0 69.3 L298.6 64.3 L293.6 60.0Z M291.4 -1.2 L290.8 8.8 L288.3 16.3 L290.8 20.6 L292.7 25.6 L290.8 32.5 L290.6 38.7 L287.3 44.4 L290.6 52.2 L293.9 47.5 L298.9 43.1 L303.3 42.5 L309.5 48.1 L309.8 41.9 L305.2 37.5 L303.9 34.4 L299.6 30.0 L297.3 24.4 L298.6 17.5 L302.1 11.3 L307.0 8.5 L314.5 8.2 L321.4 12.3 L319.5 6.9 L317.0 -1.2 M336.4 77.2 L343.3 70.6 L349.3 70.2 L342.0 74.9Z M355.7 71.2 L364.5 63.1 L370.1 59.3 L372.6 60.6 L381.3 57.5 L373.2 62.4 L364.5 67.4Z M390.1 55.0 L395.1 51.2 L400.1 49.3 L400.1 53.7 L393.2 55.6Z" fill="none" stroke="#000" stroke-width="2.15" stroke-linejoin="round" stroke-linecap="round"/>
</g>
<path d="M132.3 0v5 M132.3 381.3v-5 M0 127.1h5 M396.8 127.1h-5 M264.5 0v5 M264.5 381.3v-5 M0 254.2h5 M396.8 254.2h-5" stroke="#262626" stroke-width="1.4" fill="none"/>
<rect x="0" y="0" width="396.8" height="381.3" fill="none" stroke="#222" stroke-width="1.9"/>
</g>
<rect x="1217.0" y="611.4" width="26.7" height="381.3" fill="url(#pare)" stroke="#222" stroke-width="1.9"/>
<text x="778.8" y="596.5" font-size="33.5" fill="#262626" text-anchor="middle" >120°E</text>
<text x="911.1" y="596.5" font-size="33.5" fill="#262626" text-anchor="middle" >130°E</text>
<text x="1043.3" y="596.5" font-size="33.5" fill="#262626" text-anchor="middle" >140°E</text>
<text x="1175.6" y="596.5" font-size="33.5" fill="#262626" text-anchor="middle" >150°E</text>
<text x="772.5" y="620.8" font-size="33.5" fill="#262626" text-anchor="end" >50°N</text>
<text x="772.5" y="748.2" font-size="33.5" fill="#262626" text-anchor="end" >40°N</text>
<text x="772.5" y="875.7" font-size="33.5" fill="#262626" text-anchor="end" >30°N</text>
<text x="772.5" y="1003.1" font-size="33.5" fill="#262626" text-anchor="end" >20°N</text>
<text x="972.3" y="558.4" font-size="33.5" fill="#000" text-anchor="middle" >(e)</text>
<text x="1252.2" y="621.8" font-size="33.5" fill="#262626" text-anchor="start" >0.01</text>
<text x="1252.2" y="748.8" font-size="33.5" fill="#262626" text-anchor="start" >0</text>
<text x="1252.2" y="875.7" font-size="33.5" fill="#262626" text-anchor="start" >-0.01</text>
<text x="1252.2" y="1002.7" font-size="33.5" fill="#262626" text-anchor="start" >-0.02</text>
<path d="M1243.7 738.5h-4.5 M1243.7 865.6h-4.5" stroke="#262626" stroke-width="1.4" fill="none"/>

<g transform="translate(1449.8 611.4)">
<g clip-path="url(#clf)">
<rect x="-5" y="-5" width="406.8" height="391.3" fill="#8dcb4f"/>
<path d="M148.6 -21.7 L161.5 -0.3 L175.0 22.1 L192.2 51.3 L188.5 62.5 L187.0 76.0 L181.0 78.3 L158.5 82.0 L148.0 92.5 L136.0 95.5 L128.6 103.0 L127.8 113.5 L121.1 118.0 L109.1 122.5 L100.1 127.0 L101.6 140.6 L115.1 155.6 L124.1 164.5 L126.3 173.5 L122.6 184.0 L115.1 190.0 L100.1 193.8 L108.3 203.5 L112.1 215.5 L119.6 226.0 L126.3 218.5 L126.3 211.0 L132.3 199.0 L148.8 217.0 L139.0 225.2 L134.5 230.5 L134.5 241.0 L145.0 253.1 L160.0 269.6 L175.0 286.0 L190.0 302.5 L202.0 317.5 L207.2 331.0 L205.0 344.5 L199.0 358.0 L193.0 371.5 L189.2 381.2 L180.3 404.5 L189.2 441.3 L-60.0 441.3 L-60.0 -60.0 L161.5 -60.0Z" fill="#d0c027" stroke="#000" stroke-width="2.25" stroke-linejoin="round"/>
<path d="M157.0 191.5 L160.0 188.5 L175.8 191.5 L173.5 203.5 L160.0 205.0 L156.3 201.3Z" fill="#d0c027" stroke="#000" stroke-width="2.00" stroke-linejoin="round"/>
<path d="M106.7 -22.9 L117.3 -0.3 L127.1 20.6 L136.0 41.6 L140.5 62.5 L139.0 77.5 L136.0 88.0 L130.1 91.0 L122.6 98.5 L120.3 112.7 L106.1 116.5 L95.6 127.0 L94.8 137.6 L100.1 145.1 L107.6 155.6 L112.8 164.5 L110.6 176.5 L100.1 185.5 L94.1 193.0 L85.1 202.8 L89.6 218.5 L94.1 236.5 L96.3 251.5 L97.8 251.6 L95.6 266.6 L91.1 280.1 L83.6 293.5 L79.1 305.5 L77.3 320.5 L77.6 338.5 L82.1 353.5 L88.1 367.0 L95.6 381.2 L107.2 403.3 L95.6 441.3 L-60.0 441.3 L-60.0 -60.0 L117.3 -60.0Z" fill="#fdbd3d" stroke="#000" stroke-width="2.25" stroke-linejoin="round"/>
<path d="M58.1 -0.3 C58.9 1.7 64.4 15.2 65.6 19.1 C66.8 23.0 69.7 35.1 70.1 38.6 C70.6 42.0 70.6 50.2 70.1 53.5 C69.7 56.8 67.0 67.9 65.6 71.5 C64.3 75.1 58.7 86.2 56.6 89.5 C54.5 92.8 47.1 102.1 44.6 104.5 C42.2 106.9 31.6 112.1 31.9 113.5 C32.2 114.8 45.5 117.1 47.6 118.0 C49.8 118.9 52.7 121.4 53.6 122.5 C54.5 123.5 56.2 127.9 56.6 128.5 C57.1 129.1 58.0 127.1 58.1 128.6 C58.2 130.1 58.0 139.8 57.4 143.6 C56.8 147.3 53.3 161.6 52.1 166.0 C51.0 170.5 47.5 184.0 46.1 188.5 C44.8 193.0 40.1 207.1 38.6 211.0 C37.1 214.9 32.3 225.1 31.1 227.5 C30.0 229.9 27.4 234.8 26.7 235.0 C25.9 235.1 25.3 230.8 23.7 229.0 C22.0 227.2 12.1 219.7 10.2 217.0 C8.2 214.3 5.2 204.0 4.2 202.0 C3.2 200.1 1.2 198.3 -0.0 197.5 C-1.2 196.8 -7.0 194.8 -7.8 194.5 L-60.0 194.5 L-60.0 -60.0 L58.1 -60.0Z" fill="#f7dc2a" stroke="#000" stroke-width="2.25" stroke-linejoin="round"/>
<path d="M-4.8 164.5 L10.2 160.1 L18.4 164.5 L10.2 170.2 L-4.8 171.7Z" fill="#fdbd3d" stroke="#000" stroke-width="2.00" stroke-linejoin="round"/>
<path d="M-4.8 127.8 L12.4 122.6 L-0.0 138.3 L-4.8 139.1Z" fill="#f9fb15" stroke="#000" stroke-width="2.00" stroke-linejoin="round"/>
<path d="M-16.9 355.3 L-0.0 349.0 L16.9 342.7 L29.7 362.5 L42.4 381.2 L52.5 396.1 L-60.0 441.3Z" fill="#f7dc2a" stroke="#000" stroke-width="2.25" stroke-linejoin="round"/>
<path d="M186.9 -13.5 L199.0 -0.2 L233.0 37.4 L237.3 50.6 L264.7 25.4 L277.9 25.4 L277.9 37.4 L290.5 50.6 L305.3 50.6 L317.4 38.5 L304.2 25.4 L317.9 25.4 L330.5 38.5 L370.0 38.5 L396.8 63.8 L410.0 76.1 L456.8 73.8 L456.8 -60.0 L189.0 -60.0Z" fill="#48cb86" stroke="#000" stroke-width="2.00" stroke-linejoin="round"/>
<path d="M290.5 51.7 L304.2 63.2 L317.9 63.8 L330.5 75.8 L306.4 101.6 L291.0 101.6 L281.2 90.1 L277.9 76.9 L277.9 63.2Z" fill="#48cb86" stroke="#000" stroke-width="2.00" stroke-linejoin="round"/>
<path d="M219.8 -12.4 L233.0 -0.2 L251.0 16.6 L277.9 17.2 L286.7 26.5 L288.9 41.8 L306.4 41.8 L309.1 37.4 L299.8 26.5 L303.7 19.5 L330.2 22.1 L343.9 32.4 L370.4 35.0 L385.3 45.4 L396.7 47.3 L414.5 50.2 L456.8 57.3 L456.8 -60.0 L223.0 -60.0Z" fill="#21c1b0" stroke="#000" stroke-width="2.00" stroke-linejoin="round"/>
<path d="M251.4 -9.3 L266.9 -0.2 L282.3 8.9 L288.9 19.9 L290.5 29.8 L298.7 26.5 L299.8 17.2 L303.7 15.0 L330.2 18.3 L343.9 27.3 L370.4 30.5 L384.7 41.5 L396.7 44.8 L414.1 49.5 L456.8 54.8 L456.8 -60.0 L256.9 -60.0Z" fill="#0ab4d2" stroke="#000" stroke-width="2.00" stroke-linejoin="round"/>
<path d="M285.1 -8.4 L301.1 -0.2 L320.5 9.8 L330.2 13.0 L358.7 25.4 L371.1 27.3 L385.3 38.3 L396.7 40.2 L414.5 43.1 L456.8 50.2 L456.8 -60.0 L291.1 -60.0Z" fill="#249fe6" stroke="#000" stroke-width="2.00" stroke-linejoin="round"/>
<path d="M308.3 -8.3 L324.4 -0.2 L396.7 36.4 L412.8 44.5 L456.8 46.4 L456.8 -60.0 L314.4 -60.0Z" fill="#2e85f8" stroke="#000" stroke-width="2.00" stroke-linejoin="round"/>
<path d="M329.9 -8.7 L345.7 -0.2 L396.7 27.3 L412.6 35.8 L456.8 37.3 L456.8 -60.0 L335.7 -60.0Z" fill="#4367fd" stroke="#000" stroke-width="2.00" stroke-linejoin="round"/>
<path d="M348.1 -8.7 L363.9 -0.2 L396.7 17.6 L412.5 26.2 L456.8 27.6 L456.8 -60.0 L353.9 -60.0Z" fill="#484aee" stroke="#000" stroke-width="2.00" stroke-linejoin="round"/>
<path d="M364.6 -6.7 L381.4 -0.2 L396.7 5.9 L413.5 12.5 L456.8 15.9 L456.8 -60.0 L371.4 -60.0Z" fill="#4330c5" stroke="#000" stroke-width="2.00" stroke-linejoin="round"/>
<path d="M132.3 0V381.3 M0 127.1H396.8" stroke="#262626" stroke-opacity="0.18" stroke-width="1.1" fill="none"/>
<path d="M264.5 0V381.3 M0 254.2H396.8" stroke="#262626" stroke-opacity="0.18" stroke-width="1.1" fill="none"/>
<path d="M-0.8 127.5 L5.4 124.3 L11.1 119.3 L16.7 115.6 L24.8 116.9 L29.8 122.2 L25.4 126.8 L19.8 130.0 L17.9 133.7 L21.7 137.4 L15.4 143.1 L22.9 140.6 L31.7 134.3 L41.7 131.2 L52.9 129.7 L61.6 131.2 L71.6 134.3 L67.9 143.1 L62.9 151.2 L70.4 156.2 L80.4 155.9 L86.6 160.5 L89.1 164.9 L81.6 166.2 L84.1 171.8 L89.1 180.5 L84.1 186.7 L84.1 193.0 L87.2 199.6 L94.1 195.5 L102.8 192.6 L112.8 190.5 L119.7 187.4 L123.4 179.9 L124.7 171.1 L122.8 161.8 L119.1 154.3 L112.8 147.4 L106.6 141.2 L99.1 136.8 L96.8 135.6 L98.8 131.8 L96.6 130.0 L102.8 128.1 L112.8 124.3 L121.6 119.3 L127.8 116.2 L128.4 110.6 L126.8 107.2 L132.8 101.1 L140.3 98.6 L142.8 94.6 L147.8 94.6 L154.7 86.8 L162.8 86.4 L163.8 90.5 L172.8 93.7 L181.5 91.2 L189.0 86.8 L197.7 83.4 L205.2 76.8 L207.1 72.4 L215.2 67.4 L224.0 60.6 L231.5 55.0 L239.0 47.5 L244.0 36.9 L248.4 32.7 L255.8 26.5 L263.3 21.0 L267.1 15.0 L269.6 8.8 L270.8 -1.2 M-2.1 159.3 L10.4 156.2 L16.1 158.7 L25.4 159.9 L34.2 161.4 L31.0 167.4 L27.3 165.5 L19.2 168.6 L10.4 171.8 L7.9 176.8 L-2.1 180.9 M-2.1 198.9 L4.8 200.5 L8.6 209.8 L12.9 221.1 L19.2 225.4 L23.5 227.4 L24.8 233.0 L16.7 232.7 L24.2 236.8 L26.0 242.4 L19.2 244.3 L12.9 248.6 L6.1 250.1 L11.7 251.4 L17.3 251.8 L27.7 254.0 L26.4 264.2 L21.4 265.1 L20.4 273.6 L18.6 277.4 L14.2 278.0 L7.9 286.1 L4.2 293.0 L-2.1 297.3 M2.3 336.1 L7.3 326.1 L14.2 318.0 L20.4 314.6 L25.2 317.4 L25.4 323.6 L21.7 333.6 L18.6 342.3 L12.9 349.8 L11.1 356.0 L9.2 351.7 L4.8 348.6 L2.3 341.1Z M100.3 303.6 L102.2 298.6 L107.2 294.8 L111.0 294.2 L110.3 297.3 L105.3 302.3 L102.2 304.8Z M121.3 278.6 L122.8 274.9 L127.2 273.0 L129.1 274.2 L125.3 278.0Z M125.9 213.6 L132.8 208.6 L139.7 206.1 L145.9 205.5 L153.4 207.3 L155.3 212.3 L156.5 217.3 L152.8 225.4 L150.9 231.2 L150.3 236.8 L141.6 241.2 L134.1 238.0 L133.2 231.1 L134.3 228.6 L137.2 225.4 L137.8 218.6 L134.7 214.8 L134.1 218.6 L129.1 218.6Z M269.2 112.5 L265.5 116.9 L264.2 122.5 L264.6 128.7 L263.6 135.6 L259.8 142.4 L256.1 150.5 L249.2 154.3 L244.9 159.3 L239.9 163.0 L225.1 168.4 L226.7 159.3 L221.4 162.4 L219.9 168.0 L211.1 176.8 L210.8 182.4 L206.8 184.2 L202.4 181.4 L191.2 182.6 L168.1 184.9 L159.9 189.9 L152.4 194.2 L145.0 198.4 L143.6 199.8 L144.8 204.2 L158.6 203.6 L167.3 199.8 L179.9 196.7 L191.2 193.0 L204.9 193.9 L201.1 198.6 L200.9 203.6 L203.6 209.8 L208.0 210.8 L214.9 203.0 L221.1 199.2 L218.4 195.9 L221.8 191.1 L228.0 196.1 L239.2 196.1 L246.7 189.9 L248.6 196.1 L251.1 188.6 L262.1 184.9 L261.1 191.7 L268.6 189.2 L270.1 184.9 L274.8 181.8 L272.3 174.9 L273.6 168.6 L277.3 162.4 L276.7 153.0 L278.6 148.4 L284.2 148.1 L284.8 142.4 L288.6 138.1 L289.8 130.6 L286.7 123.7 L282.6 116.9 L282.9 110.6 L275.1 108.5 L274.6 111.0 L278.6 111.5 L278.6 115.0 L273.6 115.6Z M162.4 212.3 L169.3 204.2 L174.3 204.8 L178.7 200.5 L186.2 199.6 L191.8 201.7 L193.4 206.1 L186.2 213.3 L182.4 210.5 L176.8 212.1 L170.6 219.8 L164.3 217.3Z M289.2 57.7 L284.2 61.2 L287.1 66.2 L286.1 71.8 L284.2 76.2 L280.8 79.9 L281.3 86.2 L268.3 86.4 L269.2 90.5 L261.7 93.7 L260.8 98.0 L264.2 101.1 L264.8 109.3 L278.6 104.3 L268.0 99.3 L269.2 96.1 L276.7 97.4 L288.6 94.3 L307.3 102.1 L309.8 97.4 L316.0 92.4 L321.7 89.3 L327.3 89.7 L341.6 83.7 L334.1 85.5 L333.3 82.4 L331.6 79.9 L334.8 73.7 L327.3 76.8 L316.0 73.7 L306.0 69.3 L298.6 64.3 L293.6 60.0Z M291.4 -1.2 L290.8 8.8 L288.3 16.3 L290.8 20.6 L292.7 25.6 L290.8 32.5 L290.6 38.7 L287.3 44.4 L290.6 52.2 L293.9 47.5 L298.9 43.1 L303.3 42.5 L309.5 48.1 L309.8 41.9 L305.2 37.5 L303.9 34.4 L299.6 30.0 L297.3 24.4 L298.6 17.5 L302.1 11.3 L307.0 8.5 L314.5 8.2 L321.4 12.3 L319.5 6.9 L317.0 -1.2 M336.4 77.2 L343.3 70.6 L349.3 70.2 L342.0 74.9Z M355.7 71.2 L364.5 63.1 L370.1 59.3 L372.6 60.6 L381.3 57.5 L373.2 62.4 L364.5 67.4Z M390.1 55.0 L395.1 51.2 L400.1 49.3 L400.1 53.7 L393.2 55.6Z" fill="none" stroke="#000" stroke-width="2.15" stroke-linejoin="round" stroke-linecap="round"/>
</g>
<path d="M132.3 0v5 M132.3 381.3v-5 M0 127.1h5 M396.8 127.1h-5 M264.5 0v5 M264.5 381.3v-5 M0 254.2h5 M396.8 254.2h-5" stroke="#262626" stroke-width="1.4" fill="none"/>
<rect x="0" y="0" width="396.8" height="381.3" fill="none" stroke="#222" stroke-width="1.9"/>
</g>
<rect x="1895.6" y="611.4" width="26.8" height="381.3" fill="url(#parf)" stroke="#222" stroke-width="1.9"/>
<text x="1457.3" y="596.5" font-size="33.5" fill="#262626" text-anchor="middle" >120°E</text>
<text x="1589.6" y="596.5" font-size="33.5" fill="#262626" text-anchor="middle" >130°E</text>
<text x="1721.8" y="596.5" font-size="33.5" fill="#262626" text-anchor="middle" >140°E</text>
<text x="1854.1" y="596.5" font-size="33.5" fill="#262626" text-anchor="middle" >150°E</text>
<text x="1451.0" y="620.8" font-size="33.5" fill="#262626" text-anchor="end" >50°N</text>
<text x="1451.0" y="748.2" font-size="33.5" fill="#262626" text-anchor="end" >40°N</text>
<text x="1451.0" y="875.7" font-size="33.5" fill="#262626" text-anchor="end" >30°N</text>
<text x="1451.0" y="1003.1" font-size="33.5" fill="#262626" text-anchor="end" >20°N</text>
<text x="1650.8" y="558.4" font-size="33.5" fill="#000" text-anchor="middle" >(f)</text>
<text x="1930.9" y="621.8" font-size="33.5" fill="#262626" text-anchor="start" >0.01</text>
<text x="1930.9" y="748.8" font-size="33.5" fill="#262626" text-anchor="start" >0</text>
<text x="1930.9" y="875.7" font-size="33.5" fill="#262626" text-anchor="start" >-0.01</text>
<text x="1930.9" y="1002.7" font-size="33.5" fill="#262626" text-anchor="start" >-0.02</text>
<path d="M1922.4 738.5h-4.5 M1922.4 865.6h-4.5" stroke="#262626" stroke-width="1.4" fill="none"/>

</svg></body></html>
